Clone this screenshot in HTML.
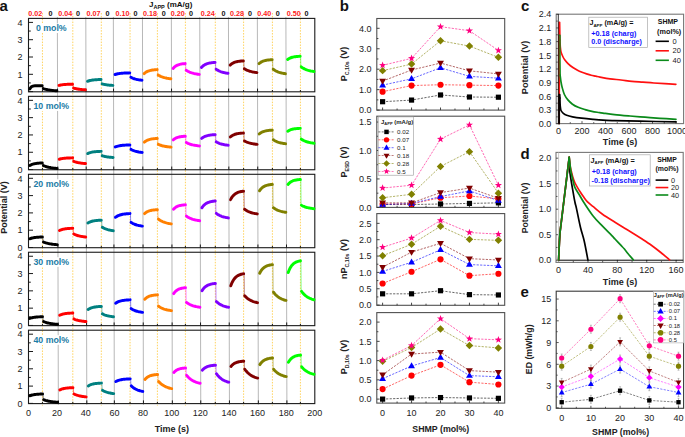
<!DOCTYPE html>
<html><head><meta charset="utf-8"><style>
html,body{margin:0;padding:0;background:#fff;}
svg{display:block;font-family:"Liberation Sans",sans-serif;}
</style></head><body>
<svg width="685" height="437" viewBox="0 0 685 437">
<rect width="685" height="437" fill="#fff"/>
<line x1="57.35" y1="17.00" x2="58.35" y2="404.80" stroke="#b8b8b8" stroke-width="1" />
<line x1="85.80" y1="17.00" x2="86.80" y2="404.80" stroke="#b8b8b8" stroke-width="1" />
<line x1="113.35" y1="17.00" x2="114.35" y2="404.80" stroke="#b8b8b8" stroke-width="1" />
<line x1="142.45" y1="17.00" x2="143.45" y2="404.80" stroke="#b8b8b8" stroke-width="1" />
<line x1="171.35" y1="17.00" x2="172.35" y2="404.80" stroke="#b8b8b8" stroke-width="1" />
<line x1="199.75" y1="17.00" x2="200.75" y2="404.80" stroke="#b8b8b8" stroke-width="1" />
<line x1="228.45" y1="17.00" x2="229.45" y2="404.80" stroke="#b8b8b8" stroke-width="1" />
<line x1="257.35" y1="17.00" x2="258.35" y2="404.80" stroke="#b8b8b8" stroke-width="1" />
<line x1="285.90" y1="17.00" x2="286.90" y2="404.80" stroke="#b8b8b8" stroke-width="1" />
<line x1="42.45" y1="13.00" x2="42.45" y2="405.60" stroke="#ffd35f" stroke-width="1" stroke-dasharray="1.5,1.36"/>
<line x1="72.80" y1="13.00" x2="72.80" y2="405.60" stroke="#ffd35f" stroke-width="1" stroke-dasharray="1.5,1.36"/>
<line x1="101.30" y1="13.00" x2="101.30" y2="405.60" stroke="#ffd35f" stroke-width="1" stroke-dasharray="1.5,1.36"/>
<line x1="130.05" y1="13.00" x2="130.05" y2="405.60" stroke="#ffd35f" stroke-width="1" stroke-dasharray="1.5,1.36"/>
<line x1="157.40" y1="13.00" x2="157.40" y2="405.60" stroke="#ffd35f" stroke-width="1" stroke-dasharray="1.5,1.36"/>
<line x1="185.40" y1="13.00" x2="185.40" y2="405.60" stroke="#ffd35f" stroke-width="1" stroke-dasharray="1.5,1.36"/>
<line x1="215.30" y1="13.00" x2="215.30" y2="405.60" stroke="#ffd35f" stroke-width="1" stroke-dasharray="1.5,1.36"/>
<line x1="243.60" y1="13.00" x2="243.60" y2="405.60" stroke="#ffd35f" stroke-width="1" stroke-dasharray="1.5,1.36"/>
<line x1="272.40" y1="13.00" x2="272.40" y2="405.60" stroke="#ffd35f" stroke-width="1" stroke-dasharray="1.5,1.36"/>
<line x1="300.40" y1="13.00" x2="300.40" y2="405.60" stroke="#ffd35f" stroke-width="1" stroke-dasharray="1.5,1.36"/>
<rect x="28.50" y="18.40" width="286.30" height="73.40" fill="none" stroke="#1a1a1a" stroke-width="1.1" />
<line x1="28.50" y1="91.60" x2="33.00" y2="91.60" stroke="#1a1a1a" stroke-width="1" />
<text x="22.60" y="94.80" font-size="9" text-anchor="end" font-weight="normal" fill="#222" >0</text>
<line x1="28.50" y1="74.30" x2="33.00" y2="74.30" stroke="#1a1a1a" stroke-width="1" />
<text x="22.60" y="77.50" font-size="9" text-anchor="end" font-weight="normal" fill="#222" >1</text>
<line x1="28.50" y1="57.00" x2="33.00" y2="57.00" stroke="#1a1a1a" stroke-width="1" />
<text x="22.60" y="60.20" font-size="9" text-anchor="end" font-weight="normal" fill="#222" >2</text>
<line x1="28.50" y1="39.70" x2="33.00" y2="39.70" stroke="#1a1a1a" stroke-width="1" />
<text x="22.60" y="42.90" font-size="9" text-anchor="end" font-weight="normal" fill="#222" >3</text>
<line x1="28.50" y1="22.40" x2="33.00" y2="22.40" stroke="#1a1a1a" stroke-width="1" />
<text x="22.60" y="25.60" font-size="9" text-anchor="end" font-weight="normal" fill="#222" >4</text>
<line x1="28.50" y1="82.95" x2="30.80" y2="82.95" stroke="#1a1a1a" stroke-width="1" />
<line x1="28.50" y1="65.65" x2="30.80" y2="65.65" stroke="#1a1a1a" stroke-width="1" />
<line x1="28.50" y1="48.35" x2="30.80" y2="48.35" stroke="#1a1a1a" stroke-width="1" />
<line x1="28.50" y1="31.05" x2="30.80" y2="31.05" stroke="#1a1a1a" stroke-width="1" />
<line x1="57.54" y1="91.80" x2="57.54" y2="88.60" stroke="#1a1a1a" stroke-width="1" />
<line x1="85.99" y1="91.80" x2="85.99" y2="88.60" stroke="#1a1a1a" stroke-width="1" />
<line x1="113.54" y1="91.80" x2="113.54" y2="88.60" stroke="#1a1a1a" stroke-width="1" />
<line x1="142.64" y1="91.80" x2="142.64" y2="88.60" stroke="#1a1a1a" stroke-width="1" />
<line x1="171.54" y1="91.80" x2="171.54" y2="88.60" stroke="#1a1a1a" stroke-width="1" />
<line x1="199.94" y1="91.80" x2="199.94" y2="88.60" stroke="#1a1a1a" stroke-width="1" />
<line x1="228.64" y1="91.80" x2="228.64" y2="88.60" stroke="#1a1a1a" stroke-width="1" />
<line x1="257.54" y1="91.80" x2="257.54" y2="88.60" stroke="#1a1a1a" stroke-width="1" />
<line x1="286.09" y1="91.80" x2="286.09" y2="88.60" stroke="#1a1a1a" stroke-width="1" />
<line x1="42.45" y1="91.80" x2="42.45" y2="90.00" stroke="#1a1a1a" stroke-width="1" />
<line x1="72.80" y1="91.80" x2="72.80" y2="90.00" stroke="#1a1a1a" stroke-width="1" />
<line x1="101.30" y1="91.80" x2="101.30" y2="90.00" stroke="#1a1a1a" stroke-width="1" />
<line x1="130.05" y1="91.80" x2="130.05" y2="90.00" stroke="#1a1a1a" stroke-width="1" />
<line x1="157.40" y1="91.80" x2="157.40" y2="90.00" stroke="#1a1a1a" stroke-width="1" />
<line x1="185.40" y1="91.80" x2="185.40" y2="90.00" stroke="#1a1a1a" stroke-width="1" />
<line x1="215.30" y1="91.80" x2="215.30" y2="90.00" stroke="#1a1a1a" stroke-width="1" />
<line x1="243.60" y1="91.80" x2="243.60" y2="90.00" stroke="#1a1a1a" stroke-width="1" />
<line x1="272.40" y1="91.80" x2="272.40" y2="90.00" stroke="#1a1a1a" stroke-width="1" />
<line x1="300.40" y1="91.80" x2="300.40" y2="90.00" stroke="#1a1a1a" stroke-width="1" />
<rect x="35.80" y="23.40" width="31.00" height="9.6" fill="#fff"/>
<text x="51.30" y="31.40" font-size="8.8" text-anchor="middle" font-weight="bold" fill="#1b7ca6" >0 mol%</text>
<polyline points="29.80,89.00 30.57,87.66 31.35,86.86 32.12,86.39 32.90,86.11 33.67,85.94 34.44,85.84 35.22,85.79 35.99,85.75 36.76,85.73 37.54,85.72 38.31,85.71 39.09,85.71 39.86,85.70 40.63,85.70 41.41,85.70 42.18,85.70" fill="none" stroke="#000000" stroke-width="2.95" stroke-linejoin="round" stroke-linecap="round" />
<polyline points="43.28,88.60 44.13,88.87 44.98,89.11 45.83,89.33 46.68,89.52 47.53,89.70 48.37,89.86 49.22,90.00 50.07,90.13 50.92,90.25 51.77,90.36 52.62,90.45 53.47,90.54 54.32,90.61 55.17,90.68 56.01,90.74 56.86,90.80" fill="none" stroke="#000000" stroke-width="2.95" stroke-linejoin="round" stroke-linecap="round" />
<line x1="42.68" y1="85.70" x2="42.88" y2="88.60" stroke="#000000" stroke-width="0.8" opacity="0.6"/>
<polyline points="59.06,85.40 59.90,85.19 60.75,85.02 61.59,84.87 62.43,84.75 63.27,84.65 64.11,84.56 64.96,84.49 65.80,84.43 66.64,84.38 67.48,84.34 68.32,84.31 69.16,84.28 70.01,84.25 70.85,84.23 71.69,84.21 72.53,84.20" fill="none" stroke="#ff0000" stroke-width="2.95" stroke-linejoin="round" stroke-linecap="round" />
<polyline points="73.63,88.10 74.36,88.31 75.09,88.49 75.82,88.66 76.55,88.81 77.28,88.95 78.01,89.07 78.74,89.19 79.47,89.29 80.20,89.38 80.93,89.46 81.66,89.53 82.39,89.60 83.12,89.65 83.85,89.71 84.58,89.76 85.31,89.80" fill="none" stroke="#ff0000" stroke-width="2.95" stroke-linejoin="round" stroke-linecap="round" />
<line x1="73.03" y1="84.20" x2="73.23" y2="88.10" stroke="#ff0000" stroke-width="0.8" opacity="0.6"/>
<polyline points="87.51,81.30 88.36,80.99 89.20,80.73 90.05,80.51 90.89,80.33 91.74,80.17 92.58,80.04 93.43,79.94 94.27,79.85 95.12,79.77 95.96,79.71 96.81,79.66 97.65,79.61 98.50,79.58 99.34,79.55 100.19,79.52 101.03,79.50" fill="none" stroke="#008080" stroke-width="2.95" stroke-linejoin="round" stroke-linecap="round" />
<polyline points="102.13,83.90 102.80,84.08 103.47,84.25 104.14,84.40 104.81,84.53 105.49,84.65 106.16,84.76 106.83,84.86 107.50,84.95 108.17,85.03 108.84,85.10 109.51,85.16 110.18,85.22 110.85,85.27 111.52,85.32 112.19,85.36 112.86,85.40" fill="none" stroke="#008080" stroke-width="2.95" stroke-linejoin="round" stroke-linecap="round" />
<line x1="101.53" y1="79.50" x2="101.73" y2="83.90" stroke="#008080" stroke-width="0.8" opacity="0.6"/>
<polyline points="115.06,74.50 115.98,74.22 116.90,73.99 117.82,73.80 118.74,73.63 119.66,73.50 120.58,73.38 121.50,73.29 122.42,73.21 123.34,73.14 124.26,73.09 125.18,73.04 126.10,73.00 127.02,72.97 127.94,72.94 128.86,72.92 129.78,72.90" fill="none" stroke="#0000ff" stroke-width="2.95" stroke-linejoin="round" stroke-linecap="round" />
<polyline points="130.88,77.30 131.57,77.65 132.27,77.97 132.96,78.26 133.65,78.52 134.34,78.75 135.04,78.96 135.73,79.15 136.42,79.32 137.11,79.48 137.81,79.61 138.50,79.74 139.19,79.85 139.89,79.95 140.58,80.04 141.27,80.13 141.96,80.20" fill="none" stroke="#0000ff" stroke-width="2.95" stroke-linejoin="round" stroke-linecap="round" />
<line x1="130.28" y1="72.90" x2="130.48" y2="77.30" stroke="#0000ff" stroke-width="0.8" opacity="0.6"/>
<polyline points="144.16,73.60 144.97,72.91 145.78,72.33 146.59,71.84 147.41,71.43 148.22,71.09 149.03,70.81 149.84,70.57 150.65,70.37 151.46,70.21 152.27,70.07 153.08,69.95 153.89,69.85 154.70,69.77 155.51,69.70 156.32,69.65 157.13,69.60" fill="none" stroke="#ff8000" stroke-width="2.95" stroke-linejoin="round" stroke-linecap="round" />
<polyline points="158.23,75.10 159.02,75.55 159.81,75.96 160.60,76.32 161.39,76.65 162.18,76.95 162.97,77.22 163.76,77.46 164.55,77.68 165.34,77.88 166.13,78.05 166.92,78.21 167.71,78.35 168.49,78.48 169.28,78.60 170.07,78.71 170.86,78.80" fill="none" stroke="#ff8000" stroke-width="2.95" stroke-linejoin="round" stroke-linecap="round" />
<line x1="157.63" y1="69.60" x2="157.83" y2="75.10" stroke="#ff8000" stroke-width="0.8" opacity="0.6"/>
<polyline points="173.06,68.50 173.82,67.65 174.57,66.94 175.33,66.34 176.08,65.85 176.83,65.43 177.59,65.08 178.34,64.79 179.10,64.55 179.85,64.34 180.61,64.17 181.36,64.03 182.11,63.91 182.87,63.81 183.62,63.73 184.38,63.66 185.13,63.60" fill="none" stroke="#ff00ff" stroke-width="2.95" stroke-linejoin="round" stroke-linecap="round" />
<polyline points="186.23,70.30 187.05,70.80 187.86,71.25 188.67,71.66 189.49,72.02 190.30,72.35 191.12,72.65 191.93,72.92 192.75,73.16 193.56,73.38 194.38,73.57 195.19,73.75 196.01,73.91 196.82,74.05 197.63,74.18 198.45,74.30 199.26,74.40" fill="none" stroke="#ff00ff" stroke-width="2.95" stroke-linejoin="round" stroke-linecap="round" />
<line x1="185.63" y1="63.60" x2="185.83" y2="70.30" stroke="#ff00ff" stroke-width="0.8" opacity="0.6"/>
<polyline points="201.46,67.40 202.31,66.53 203.16,65.81 204.01,65.20 204.86,64.69 205.70,64.27 206.55,63.91 207.40,63.62 208.25,63.37 209.10,63.16 209.94,62.98 210.79,62.84 211.64,62.72 212.49,62.62 213.34,62.53 214.18,62.46 215.03,62.40" fill="none" stroke="#8000ff" stroke-width="2.95" stroke-linejoin="round" stroke-linecap="round" />
<polyline points="216.13,69.20 216.87,69.70 217.61,70.15 218.35,70.56 219.09,70.92 219.83,71.25 220.57,71.55 221.31,71.82 222.05,72.06 222.79,72.28 223.53,72.47 224.27,72.65 225.01,72.81 225.74,72.95 226.48,73.08 227.22,73.20 227.96,73.30" fill="none" stroke="#8000ff" stroke-width="2.95" stroke-linejoin="round" stroke-linecap="round" />
<line x1="215.53" y1="62.40" x2="215.73" y2="69.20" stroke="#8000ff" stroke-width="0.8" opacity="0.6"/>
<polyline points="230.16,65.10 230.99,64.37 231.81,63.76 232.63,63.25 233.46,62.83 234.28,62.47 235.10,62.17 235.92,61.92 236.75,61.71 237.57,61.54 238.39,61.39 239.22,61.27 240.04,61.17 240.86,61.08 241.69,61.01 242.51,60.95 243.33,60.90" fill="none" stroke="#800000" stroke-width="2.95" stroke-linejoin="round" stroke-linecap="round" />
<polyline points="244.43,68.80 245.21,69.26 245.99,69.68 246.76,70.06 247.54,70.40 248.32,70.70 249.09,70.98 249.87,71.23 250.65,71.45 251.42,71.65 252.20,71.83 252.98,72.00 253.76,72.14 254.53,72.28 255.31,72.40 256.09,72.50 256.86,72.60" fill="none" stroke="#800000" stroke-width="2.95" stroke-linejoin="round" stroke-linecap="round" />
<line x1="243.83" y1="60.90" x2="244.03" y2="68.80" stroke="#800000" stroke-width="0.8" opacity="0.6"/>
<polyline points="259.06,63.60 259.88,62.92 260.70,62.36 261.51,61.88 262.33,61.49 263.15,61.16 263.96,60.88 264.78,60.65 265.60,60.45 266.41,60.29 267.23,60.16 268.05,60.04 268.86,59.95 269.68,59.87 270.50,59.80 271.31,59.75 272.13,59.70" fill="none" stroke="#808000" stroke-width="2.95" stroke-linejoin="round" stroke-linecap="round" />
<polyline points="273.23,69.20 273.99,69.75 274.75,70.24 275.52,70.69 276.28,71.09 277.04,71.45 277.80,71.78 278.56,72.07 279.32,72.34 280.08,72.58 280.84,72.79 281.61,72.98 282.37,73.16 283.13,73.32 283.89,73.46 284.65,73.58 285.41,73.70" fill="none" stroke="#808000" stroke-width="2.95" stroke-linejoin="round" stroke-linecap="round" />
<line x1="272.63" y1="59.70" x2="272.83" y2="69.20" stroke="#808000" stroke-width="0.8" opacity="0.6"/>
<polyline points="287.61,59.50 288.40,58.94 289.18,58.48 289.96,58.09 290.74,57.77 291.53,57.50 292.31,57.27 293.09,57.08 293.87,56.92 294.65,56.79 295.44,56.67 296.22,56.58 297.00,56.50 297.78,56.44 298.57,56.38 299.35,56.34 300.13,56.30" fill="none" stroke="#00ff00" stroke-width="2.95" stroke-linejoin="round" stroke-linecap="round" />
<polyline points="301.23,66.90 302.03,67.46 302.83,67.97 303.63,68.42 304.42,68.83 305.22,69.20 306.02,69.54 306.82,69.84 307.62,70.11 308.41,70.35 309.21,70.57 310.01,70.77 310.81,70.95 311.61,71.11 312.40,71.25 313.20,71.38 314.00,71.50" fill="none" stroke="#00ff00" stroke-width="2.95" stroke-linejoin="round" stroke-linecap="round" />
<line x1="300.63" y1="56.30" x2="300.83" y2="66.90" stroke="#00ff00" stroke-width="0.8" opacity="0.6"/>
<rect x="28.50" y="96.35" width="286.30" height="73.40" fill="none" stroke="#1a1a1a" stroke-width="1.1" />
<line x1="28.50" y1="169.55" x2="33.00" y2="169.55" stroke="#1a1a1a" stroke-width="1" />
<text x="22.60" y="172.75" font-size="9" text-anchor="end" font-weight="normal" fill="#222" >0</text>
<line x1="28.50" y1="152.25" x2="33.00" y2="152.25" stroke="#1a1a1a" stroke-width="1" />
<text x="22.60" y="155.45" font-size="9" text-anchor="end" font-weight="normal" fill="#222" >1</text>
<line x1="28.50" y1="134.95" x2="33.00" y2="134.95" stroke="#1a1a1a" stroke-width="1" />
<text x="22.60" y="138.15" font-size="9" text-anchor="end" font-weight="normal" fill="#222" >2</text>
<line x1="28.50" y1="117.65" x2="33.00" y2="117.65" stroke="#1a1a1a" stroke-width="1" />
<text x="22.60" y="120.85" font-size="9" text-anchor="end" font-weight="normal" fill="#222" >3</text>
<line x1="28.50" y1="100.35" x2="33.00" y2="100.35" stroke="#1a1a1a" stroke-width="1" />
<text x="22.60" y="103.55" font-size="9" text-anchor="end" font-weight="normal" fill="#222" >4</text>
<line x1="28.50" y1="160.90" x2="30.80" y2="160.90" stroke="#1a1a1a" stroke-width="1" />
<line x1="28.50" y1="143.60" x2="30.80" y2="143.60" stroke="#1a1a1a" stroke-width="1" />
<line x1="28.50" y1="126.30" x2="30.80" y2="126.30" stroke="#1a1a1a" stroke-width="1" />
<line x1="28.50" y1="109.00" x2="30.80" y2="109.00" stroke="#1a1a1a" stroke-width="1" />
<line x1="57.74" y1="169.75" x2="57.74" y2="166.55" stroke="#1a1a1a" stroke-width="1" />
<line x1="86.19" y1="169.75" x2="86.19" y2="166.55" stroke="#1a1a1a" stroke-width="1" />
<line x1="113.74" y1="169.75" x2="113.74" y2="166.55" stroke="#1a1a1a" stroke-width="1" />
<line x1="142.84" y1="169.75" x2="142.84" y2="166.55" stroke="#1a1a1a" stroke-width="1" />
<line x1="171.74" y1="169.75" x2="171.74" y2="166.55" stroke="#1a1a1a" stroke-width="1" />
<line x1="200.14" y1="169.75" x2="200.14" y2="166.55" stroke="#1a1a1a" stroke-width="1" />
<line x1="228.84" y1="169.75" x2="228.84" y2="166.55" stroke="#1a1a1a" stroke-width="1" />
<line x1="257.74" y1="169.75" x2="257.74" y2="166.55" stroke="#1a1a1a" stroke-width="1" />
<line x1="286.29" y1="169.75" x2="286.29" y2="166.55" stroke="#1a1a1a" stroke-width="1" />
<line x1="42.45" y1="169.75" x2="42.45" y2="167.95" stroke="#1a1a1a" stroke-width="1" />
<line x1="72.80" y1="169.75" x2="72.80" y2="167.95" stroke="#1a1a1a" stroke-width="1" />
<line x1="101.30" y1="169.75" x2="101.30" y2="167.95" stroke="#1a1a1a" stroke-width="1" />
<line x1="130.05" y1="169.75" x2="130.05" y2="167.95" stroke="#1a1a1a" stroke-width="1" />
<line x1="157.40" y1="169.75" x2="157.40" y2="167.95" stroke="#1a1a1a" stroke-width="1" />
<line x1="185.40" y1="169.75" x2="185.40" y2="167.95" stroke="#1a1a1a" stroke-width="1" />
<line x1="215.30" y1="169.75" x2="215.30" y2="167.95" stroke="#1a1a1a" stroke-width="1" />
<line x1="243.60" y1="169.75" x2="243.60" y2="167.95" stroke="#1a1a1a" stroke-width="1" />
<line x1="272.40" y1="169.75" x2="272.40" y2="167.95" stroke="#1a1a1a" stroke-width="1" />
<line x1="300.40" y1="169.75" x2="300.40" y2="167.95" stroke="#1a1a1a" stroke-width="1" />
<rect x="33.30" y="101.35" width="36.00" height="9.6" fill="#fff"/>
<text x="51.30" y="109.35" font-size="8.8" text-anchor="middle" font-weight="bold" fill="#1b7ca6" >10 mol%</text>
<polyline points="29.80,165.55 30.58,165.10 31.36,164.72 32.14,164.41 32.92,164.14 33.70,163.92 34.48,163.74 35.26,163.58 36.04,163.45 36.82,163.34 37.60,163.25 38.38,163.18 39.16,163.12 39.94,163.06 40.72,163.02 41.50,162.98 42.28,162.95" fill="none" stroke="#000000" stroke-width="2.95" stroke-linejoin="round" stroke-linecap="round" />
<polyline points="43.38,165.55 44.24,165.90 45.09,166.22 45.95,166.51 46.80,166.77 47.66,167.00 48.51,167.21 49.37,167.40 50.22,167.57 51.08,167.73 51.93,167.86 52.79,167.99 53.64,168.10 54.50,168.20 55.35,168.29 56.21,168.38 57.06,168.45" fill="none" stroke="#000000" stroke-width="2.95" stroke-linejoin="round" stroke-linecap="round" />
<line x1="42.78" y1="162.95" x2="42.98" y2="165.55" stroke="#000000" stroke-width="0.8" opacity="0.6"/>
<polyline points="59.26,159.25 60.10,159.01 60.94,158.80 61.77,158.63 62.61,158.49 63.44,158.37 64.28,158.27 65.11,158.19 65.95,158.12 66.78,158.06 67.62,158.01 68.45,157.97 69.29,157.94 70.13,157.91 70.96,157.89 71.80,157.87 72.63,157.85" fill="none" stroke="#ff0000" stroke-width="2.95" stroke-linejoin="round" stroke-linecap="round" />
<polyline points="73.73,161.35 74.47,161.62 75.21,161.86 75.94,162.08 76.68,162.27 77.41,162.45 78.15,162.61 78.89,162.75 79.62,162.88 80.36,163.00 81.10,163.11 81.83,163.20 82.57,163.29 83.31,163.36 84.04,163.43 84.78,163.49 85.51,163.55" fill="none" stroke="#ff0000" stroke-width="2.95" stroke-linejoin="round" stroke-linecap="round" />
<line x1="73.13" y1="157.85" x2="73.33" y2="161.35" stroke="#ff0000" stroke-width="0.8" opacity="0.6"/>
<polyline points="87.71,153.55 88.55,153.17 89.39,152.85 90.23,152.58 91.07,152.36 91.91,152.17 92.75,152.02 93.58,151.88 94.42,151.78 95.26,151.68 96.10,151.61 96.94,151.54 97.78,151.49 98.62,151.44 99.46,151.41 100.29,151.38 101.13,151.35" fill="none" stroke="#008080" stroke-width="2.95" stroke-linejoin="round" stroke-linecap="round" />
<polyline points="102.23,155.75 102.91,155.96 103.59,156.14 104.26,156.31 104.94,156.46 105.62,156.60 106.29,156.72 106.97,156.84 107.65,156.94 108.33,157.03 109.00,157.11 109.68,157.18 110.36,157.25 111.03,157.30 111.71,157.36 112.39,157.41 113.06,157.45" fill="none" stroke="#008080" stroke-width="2.95" stroke-linejoin="round" stroke-linecap="round" />
<line x1="101.63" y1="151.35" x2="101.83" y2="155.75" stroke="#008080" stroke-width="0.8" opacity="0.6"/>
<polyline points="115.26,146.95 116.18,146.60 117.09,146.31 118.01,146.07 118.92,145.87 119.83,145.70 120.75,145.55 121.66,145.44 122.57,145.34 123.49,145.25 124.40,145.18 125.31,145.13 126.23,145.08 127.14,145.04 128.06,145.00 128.97,144.97 129.88,144.95" fill="none" stroke="#0000ff" stroke-width="2.95" stroke-linejoin="round" stroke-linecap="round" />
<polyline points="130.98,149.35 131.68,149.73 132.38,150.07 133.08,150.38 133.78,150.65 134.48,150.90 135.18,151.13 135.87,151.33 136.57,151.51 137.27,151.68 137.97,151.82 138.67,151.96 139.37,152.08 140.07,152.19 140.77,152.28 141.47,152.37 142.16,152.45" fill="none" stroke="#0000ff" stroke-width="2.95" stroke-linejoin="round" stroke-linecap="round" />
<line x1="130.38" y1="144.95" x2="130.58" y2="149.35" stroke="#0000ff" stroke-width="0.8" opacity="0.6"/>
<polyline points="144.36,142.15 145.17,141.51 145.97,140.97 146.78,140.52 147.58,140.15 148.39,139.83 149.19,139.57 149.99,139.35 150.80,139.17 151.60,139.01 152.41,138.88 153.21,138.78 154.02,138.69 154.82,138.61 155.62,138.55 156.43,138.49 157.23,138.45" fill="none" stroke="#ff8000" stroke-width="2.95" stroke-linejoin="round" stroke-linecap="round" />
<polyline points="158.33,144.35 159.13,144.69 159.92,145.00 160.72,145.28 161.52,145.53 162.31,145.75 163.11,145.95 163.90,146.14 164.70,146.30 165.49,146.45 166.29,146.58 167.09,146.70 167.88,146.81 168.68,146.91 169.47,147.00 170.27,147.08 171.06,147.15" fill="none" stroke="#ff8000" stroke-width="2.95" stroke-linejoin="round" stroke-linecap="round" />
<line x1="157.73" y1="138.45" x2="157.93" y2="144.35" stroke="#ff8000" stroke-width="0.8" opacity="0.6"/>
<polyline points="173.26,139.85 174.01,139.23 174.76,138.70 175.51,138.27 176.26,137.90 177.00,137.59 177.75,137.34 178.50,137.12 179.25,136.95 180.00,136.80 180.74,136.67 181.49,136.57 182.24,136.48 182.99,136.41 183.74,136.34 184.48,136.29 185.23,136.25" fill="none" stroke="#ff00ff" stroke-width="2.95" stroke-linejoin="round" stroke-linecap="round" />
<polyline points="186.33,142.55 187.15,142.96 187.97,143.34 188.79,143.67 189.62,143.98 190.44,144.25 191.26,144.50 192.08,144.72 192.90,144.92 193.72,145.10 194.54,145.26 195.36,145.41 196.18,145.54 197.00,145.66 197.82,145.77 198.64,145.86 199.46,145.95" fill="none" stroke="#ff00ff" stroke-width="2.95" stroke-linejoin="round" stroke-linecap="round" />
<line x1="185.73" y1="136.25" x2="185.93" y2="142.55" stroke="#ff00ff" stroke-width="0.8" opacity="0.6"/>
<polyline points="201.66,138.45 202.51,137.79 203.35,137.24 204.19,136.78 205.03,136.39 205.87,136.07 206.71,135.80 207.56,135.57 208.40,135.38 209.24,135.23 210.08,135.09 210.92,134.98 211.77,134.89 212.61,134.81 213.45,134.75 214.29,134.70 215.13,134.65" fill="none" stroke="#8000ff" stroke-width="2.95" stroke-linejoin="round" stroke-linecap="round" />
<polyline points="216.23,141.85 216.98,142.26 217.72,142.64 218.47,142.97 219.22,143.28 219.96,143.55 220.71,143.80 221.45,144.02 222.20,144.22 222.94,144.40 223.69,144.56 224.44,144.71 225.18,144.84 225.93,144.96 226.67,145.07 227.42,145.16 228.16,145.25" fill="none" stroke="#8000ff" stroke-width="2.95" stroke-linejoin="round" stroke-linecap="round" />
<line x1="215.63" y1="134.65" x2="215.83" y2="141.85" stroke="#8000ff" stroke-width="0.8" opacity="0.6"/>
<polyline points="230.36,136.95 231.18,136.27 232.00,135.71 232.81,135.23 233.63,134.84 234.45,134.51 235.26,134.23 236.08,134.00 236.90,133.80 237.72,133.64 238.53,133.51 239.35,133.39 240.17,133.30 240.98,133.22 241.80,133.15 242.62,133.10 243.43,133.05" fill="none" stroke="#800000" stroke-width="2.95" stroke-linejoin="round" stroke-linecap="round" />
<polyline points="244.53,140.95 245.32,141.36 246.10,141.74 246.88,142.07 247.67,142.38 248.45,142.65 249.23,142.90 250.02,143.12 250.80,143.32 251.58,143.50 252.36,143.66 253.15,143.81 253.93,143.94 254.71,144.06 255.50,144.17 256.28,144.26 257.06,144.35" fill="none" stroke="#800000" stroke-width="2.95" stroke-linejoin="round" stroke-linecap="round" />
<line x1="243.93" y1="133.05" x2="244.13" y2="140.95" stroke="#800000" stroke-width="0.8" opacity="0.6"/>
<polyline points="259.26,133.95 260.07,133.29 260.89,132.74 261.70,132.28 262.51,131.89 263.32,131.57 264.13,131.30 264.94,131.07 265.75,130.88 266.56,130.73 267.37,130.59 268.18,130.48 268.99,130.39 269.80,130.31 270.61,130.25 271.42,130.20 272.23,130.15" fill="none" stroke="#808000" stroke-width="2.95" stroke-linejoin="round" stroke-linecap="round" />
<polyline points="273.33,139.85 274.10,140.33 274.87,140.75 275.64,141.14 276.40,141.49 277.17,141.80 277.94,142.08 278.71,142.34 279.47,142.57 280.24,142.78 281.01,142.96 281.78,143.13 282.54,143.28 283.31,143.42 284.08,143.54 284.85,143.65 285.61,143.75" fill="none" stroke="#808000" stroke-width="2.95" stroke-linejoin="round" stroke-linecap="round" />
<line x1="272.73" y1="130.15" x2="272.93" y2="139.85" stroke="#808000" stroke-width="0.8" opacity="0.6"/>
<polyline points="287.81,131.25 288.59,130.75 289.37,130.33 290.14,129.97 290.92,129.68 291.70,129.43 292.47,129.23 293.25,129.05 294.02,128.91 294.80,128.79 295.58,128.69 296.35,128.60 297.13,128.53 297.90,128.48 298.68,128.43 299.46,128.38 300.23,128.35" fill="none" stroke="#00ff00" stroke-width="2.95" stroke-linejoin="round" stroke-linecap="round" />
<polyline points="301.33,139.15 302.12,139.65 302.92,140.10 303.71,140.51 304.50,140.87 305.29,141.20 306.08,141.50 306.87,141.77 307.67,142.01 308.46,142.23 309.25,142.42 310.04,142.60 310.83,142.76 311.62,142.90 312.42,143.03 313.21,143.15 314.00,143.25" fill="none" stroke="#00ff00" stroke-width="2.95" stroke-linejoin="round" stroke-linecap="round" />
<line x1="300.73" y1="128.35" x2="300.93" y2="139.15" stroke="#00ff00" stroke-width="0.8" opacity="0.6"/>
<rect x="28.50" y="174.30" width="286.30" height="73.40" fill="none" stroke="#1a1a1a" stroke-width="1.1" />
<line x1="28.50" y1="247.50" x2="33.00" y2="247.50" stroke="#1a1a1a" stroke-width="1" />
<text x="22.60" y="250.70" font-size="9" text-anchor="end" font-weight="normal" fill="#222" >0</text>
<line x1="28.50" y1="230.20" x2="33.00" y2="230.20" stroke="#1a1a1a" stroke-width="1" />
<text x="22.60" y="233.40" font-size="9" text-anchor="end" font-weight="normal" fill="#222" >1</text>
<line x1="28.50" y1="212.90" x2="33.00" y2="212.90" stroke="#1a1a1a" stroke-width="1" />
<text x="22.60" y="216.10" font-size="9" text-anchor="end" font-weight="normal" fill="#222" >2</text>
<line x1="28.50" y1="195.60" x2="33.00" y2="195.60" stroke="#1a1a1a" stroke-width="1" />
<text x="22.60" y="198.80" font-size="9" text-anchor="end" font-weight="normal" fill="#222" >3</text>
<line x1="28.50" y1="178.30" x2="33.00" y2="178.30" stroke="#1a1a1a" stroke-width="1" />
<text x="22.60" y="181.50" font-size="9" text-anchor="end" font-weight="normal" fill="#222" >4</text>
<line x1="28.50" y1="238.85" x2="30.80" y2="238.85" stroke="#1a1a1a" stroke-width="1" />
<line x1="28.50" y1="221.55" x2="30.80" y2="221.55" stroke="#1a1a1a" stroke-width="1" />
<line x1="28.50" y1="204.25" x2="30.80" y2="204.25" stroke="#1a1a1a" stroke-width="1" />
<line x1="28.50" y1="186.95" x2="30.80" y2="186.95" stroke="#1a1a1a" stroke-width="1" />
<line x1="57.94" y1="247.70" x2="57.94" y2="244.50" stroke="#1a1a1a" stroke-width="1" />
<line x1="86.39" y1="247.70" x2="86.39" y2="244.50" stroke="#1a1a1a" stroke-width="1" />
<line x1="113.94" y1="247.70" x2="113.94" y2="244.50" stroke="#1a1a1a" stroke-width="1" />
<line x1="143.04" y1="247.70" x2="143.04" y2="244.50" stroke="#1a1a1a" stroke-width="1" />
<line x1="171.94" y1="247.70" x2="171.94" y2="244.50" stroke="#1a1a1a" stroke-width="1" />
<line x1="200.34" y1="247.70" x2="200.34" y2="244.50" stroke="#1a1a1a" stroke-width="1" />
<line x1="229.04" y1="247.70" x2="229.04" y2="244.50" stroke="#1a1a1a" stroke-width="1" />
<line x1="257.94" y1="247.70" x2="257.94" y2="244.50" stroke="#1a1a1a" stroke-width="1" />
<line x1="286.49" y1="247.70" x2="286.49" y2="244.50" stroke="#1a1a1a" stroke-width="1" />
<line x1="42.45" y1="247.70" x2="42.45" y2="245.90" stroke="#1a1a1a" stroke-width="1" />
<line x1="72.80" y1="247.70" x2="72.80" y2="245.90" stroke="#1a1a1a" stroke-width="1" />
<line x1="101.30" y1="247.70" x2="101.30" y2="245.90" stroke="#1a1a1a" stroke-width="1" />
<line x1="130.05" y1="247.70" x2="130.05" y2="245.90" stroke="#1a1a1a" stroke-width="1" />
<line x1="157.40" y1="247.70" x2="157.40" y2="245.90" stroke="#1a1a1a" stroke-width="1" />
<line x1="185.40" y1="247.70" x2="185.40" y2="245.90" stroke="#1a1a1a" stroke-width="1" />
<line x1="215.30" y1="247.70" x2="215.30" y2="245.90" stroke="#1a1a1a" stroke-width="1" />
<line x1="243.60" y1="247.70" x2="243.60" y2="245.90" stroke="#1a1a1a" stroke-width="1" />
<line x1="272.40" y1="247.70" x2="272.40" y2="245.90" stroke="#1a1a1a" stroke-width="1" />
<line x1="300.40" y1="247.70" x2="300.40" y2="245.90" stroke="#1a1a1a" stroke-width="1" />
<rect x="33.30" y="179.30" width="36.00" height="9.6" fill="#fff"/>
<text x="51.30" y="187.30" font-size="8.8" text-anchor="middle" font-weight="bold" fill="#1b7ca6" >20 mol%</text>
<polyline points="29.80,238.80 30.59,238.49 31.37,238.23 32.16,238.01 32.95,237.83 33.73,237.67 34.52,237.54 35.31,237.44 36.09,237.35 36.88,237.27 37.66,237.21 38.45,237.16 39.24,237.11 40.02,237.08 40.81,237.05 41.60,237.02 42.38,237.00" fill="none" stroke="#000000" stroke-width="2.95" stroke-linejoin="round" stroke-linecap="round" />
<polyline points="43.48,242.10 44.34,242.42 45.21,242.70 46.07,242.96 46.93,243.19 47.79,243.40 48.65,243.59 49.51,243.76 50.37,243.91 51.24,244.05 52.10,244.17 52.96,244.29 53.82,244.39 54.68,244.48 55.54,244.56 56.40,244.63 57.27,244.70" fill="none" stroke="#000000" stroke-width="2.95" stroke-linejoin="round" stroke-linecap="round" />
<line x1="42.88" y1="237.00" x2="43.08" y2="242.10" stroke="#000000" stroke-width="0.8" opacity="0.6"/>
<polyline points="59.47,230.50 60.30,230.12 61.12,229.80 61.95,229.53 62.78,229.31 63.61,229.12 64.44,228.97 65.27,228.83 66.10,228.73 66.93,228.63 67.76,228.56 68.59,228.49 69.42,228.44 70.25,228.39 71.07,228.36 71.90,228.33 72.73,228.30" fill="none" stroke="#ff0000" stroke-width="2.95" stroke-linejoin="round" stroke-linecap="round" />
<polyline points="73.83,234.00 74.58,234.37 75.32,234.70 76.06,234.99 76.80,235.26 77.55,235.50 78.29,235.72 79.03,235.91 79.77,236.09 80.52,236.25 81.26,236.39 82.00,236.52 82.75,236.64 83.49,236.74 84.23,236.84 84.97,236.92 85.72,237.00" fill="none" stroke="#ff0000" stroke-width="2.95" stroke-linejoin="round" stroke-linecap="round" />
<line x1="73.23" y1="228.30" x2="73.43" y2="234.00" stroke="#ff0000" stroke-width="0.8" opacity="0.6"/>
<polyline points="87.92,223.00 88.75,222.51 89.58,222.11 90.41,221.77 91.25,221.48 92.08,221.25 92.91,221.05 93.74,220.88 94.57,220.74 95.41,220.62 96.24,220.53 97.07,220.45 97.90,220.38 98.74,220.32 99.57,220.27 100.40,220.23 101.23,220.20" fill="none" stroke="#008080" stroke-width="2.95" stroke-linejoin="round" stroke-linecap="round" />
<polyline points="102.33,227.20 103.02,227.63 103.70,228.01 104.38,228.36 105.07,228.67 105.75,228.95 106.43,229.21 107.12,229.43 107.80,229.64 108.48,229.83 109.17,229.99 109.85,230.14 110.53,230.28 111.22,230.40 111.90,230.51 112.58,230.61 113.27,230.70" fill="none" stroke="#008080" stroke-width="2.95" stroke-linejoin="round" stroke-linecap="round" />
<line x1="101.73" y1="220.20" x2="101.93" y2="227.20" stroke="#008080" stroke-width="0.8" opacity="0.6"/>
<polyline points="115.47,217.30 116.37,216.66 117.28,216.12 118.19,215.67 119.10,215.30 120.00,214.98 120.91,214.72 121.82,214.50 122.72,214.32 123.63,214.16 124.54,214.03 125.45,213.93 126.35,213.84 127.26,213.76 128.17,213.70 129.08,213.64 129.98,213.60" fill="none" stroke="#0000ff" stroke-width="2.95" stroke-linejoin="round" stroke-linecap="round" />
<polyline points="131.08,222.40 131.79,222.85 132.49,223.26 133.20,223.62 133.90,223.95 134.61,224.25 135.31,224.52 136.02,224.76 136.72,224.98 137.43,225.18 138.13,225.35 138.84,225.51 139.55,225.65 140.25,225.78 140.96,225.90 141.66,226.01 142.37,226.10" fill="none" stroke="#0000ff" stroke-width="2.95" stroke-linejoin="round" stroke-linecap="round" />
<line x1="130.48" y1="213.60" x2="130.68" y2="222.40" stroke="#0000ff" stroke-width="0.8" opacity="0.6"/>
<polyline points="144.57,213.60 145.36,212.92 146.16,212.36 146.96,211.88 147.76,211.49 148.56,211.16 149.35,210.88 150.15,210.65 150.95,210.45 151.75,210.29 152.55,210.16 153.34,210.04 154.14,209.95 154.94,209.87 155.74,209.80 156.54,209.75 157.33,209.70" fill="none" stroke="#ff8000" stroke-width="2.95" stroke-linejoin="round" stroke-linecap="round" />
<polyline points="158.43,219.10 159.24,219.69 160.04,220.21 160.84,220.69 161.64,221.12 162.44,221.50 163.25,221.85 164.05,222.16 164.85,222.45 165.65,222.70 166.45,222.93 167.26,223.14 168.06,223.32 168.86,223.49 169.66,223.64 170.46,223.78 171.27,223.90" fill="none" stroke="#ff8000" stroke-width="2.95" stroke-linejoin="round" stroke-linecap="round" />
<line x1="157.83" y1="209.70" x2="158.03" y2="219.10" stroke="#ff8000" stroke-width="0.8" opacity="0.6"/>
<polyline points="173.47,209.30 174.21,208.52 174.95,207.87 175.69,207.32 176.43,206.86 177.17,206.48 177.92,206.16 178.66,205.89 179.40,205.67 180.14,205.48 180.88,205.33 181.62,205.20 182.37,205.09 183.11,204.99 183.85,204.92 184.59,204.85 185.33,204.80" fill="none" stroke="#ff00ff" stroke-width="2.95" stroke-linejoin="round" stroke-linecap="round" />
<polyline points="186.43,216.10 187.26,216.66 188.09,217.17 188.91,217.62 189.74,218.03 190.57,218.40 191.40,218.74 192.22,219.04 193.05,219.31 193.88,219.55 194.70,219.77 195.53,219.97 196.36,220.15 197.18,220.31 198.01,220.45 198.84,220.58 199.67,220.70" fill="none" stroke="#ff00ff" stroke-width="2.95" stroke-linejoin="round" stroke-linecap="round" />
<line x1="185.83" y1="204.80" x2="186.03" y2="216.10" stroke="#ff00ff" stroke-width="0.8" opacity="0.6"/>
<polyline points="201.87,207.80 202.70,206.62 203.54,205.63 204.37,204.81 205.21,204.12 206.04,203.54 206.88,203.06 207.71,202.65 208.55,202.31 209.38,202.03 210.22,201.80 211.06,201.60 211.89,201.43 212.73,201.29 213.56,201.18 214.40,201.08 215.23,201.00" fill="none" stroke="#8000ff" stroke-width="2.95" stroke-linejoin="round" stroke-linecap="round" />
<polyline points="216.33,213.40 217.09,213.95 217.84,214.44 218.59,214.89 219.34,215.29 220.09,215.65 220.85,215.98 221.60,216.27 222.35,216.54 223.10,216.78 223.85,216.99 224.61,217.18 225.36,217.36 226.11,217.52 226.86,217.66 227.61,217.78 228.37,217.90" fill="none" stroke="#8000ff" stroke-width="2.95" stroke-linejoin="round" stroke-linecap="round" />
<line x1="215.73" y1="201.00" x2="215.93" y2="213.40" stroke="#8000ff" stroke-width="0.8" opacity="0.6"/>
<polyline points="230.57,199.60 231.38,198.14 232.19,196.92 233.00,195.90 233.81,195.05 234.62,194.34 235.43,193.74 236.24,193.24 237.05,192.82 237.86,192.47 238.67,192.18 239.48,191.94 240.29,191.73 241.10,191.56 241.91,191.42 242.72,191.30 243.53,191.20" fill="none" stroke="#800000" stroke-width="2.95" stroke-linejoin="round" stroke-linecap="round" />
<polyline points="244.63,209.30 245.42,209.86 246.21,210.37 247.00,210.82 247.79,211.23 248.58,211.60 249.37,211.94 250.16,212.24 250.95,212.51 251.74,212.75 252.53,212.97 253.32,213.17 254.11,213.35 254.90,213.51 255.69,213.65 256.48,213.78 257.27,213.90" fill="none" stroke="#800000" stroke-width="2.95" stroke-linejoin="round" stroke-linecap="round" />
<line x1="244.03" y1="191.20" x2="244.23" y2="209.30" stroke="#800000" stroke-width="0.8" opacity="0.6"/>
<polyline points="259.47,190.80 260.27,189.69 261.07,188.76 261.88,187.98 262.68,187.33 263.49,186.79 264.29,186.34 265.10,185.96 265.90,185.64 266.70,185.37 267.51,185.15 268.31,184.96 269.12,184.81 269.92,184.68 270.72,184.57 271.53,184.48 272.33,184.40" fill="none" stroke="#808000" stroke-width="2.95" stroke-linejoin="round" stroke-linecap="round" />
<polyline points="273.43,207.80 274.21,208.35 274.98,208.84 275.75,209.29 276.53,209.69 277.30,210.05 278.08,210.38 278.85,210.67 279.62,210.94 280.40,211.18 281.17,211.39 281.95,211.58 282.72,211.76 283.49,211.92 284.27,212.06 285.04,212.18 285.82,212.30" fill="none" stroke="#808000" stroke-width="2.95" stroke-linejoin="round" stroke-linecap="round" />
<line x1="272.83" y1="184.40" x2="273.03" y2="207.80" stroke="#808000" stroke-width="0.8" opacity="0.6"/>
<polyline points="288.02,184.40 288.79,183.55 289.56,182.84 290.33,182.24 291.10,181.75 291.86,181.33 292.63,180.98 293.40,180.69 294.17,180.45 294.94,180.24 295.71,180.07 296.48,179.93 297.25,179.81 298.02,179.71 298.79,179.63 299.56,179.56 300.33,179.50" fill="none" stroke="#00ff00" stroke-width="2.95" stroke-linejoin="round" stroke-linecap="round" />
<polyline points="301.43,205.30 302.22,205.71 303.00,206.09 303.79,206.42 304.57,206.73 305.36,207.00 306.15,207.25 306.93,207.47 307.72,207.67 308.50,207.85 309.29,208.01 310.07,208.16 310.86,208.29 311.64,208.41 312.43,208.52 313.21,208.61 314.00,208.70" fill="none" stroke="#00ff00" stroke-width="2.95" stroke-linejoin="round" stroke-linecap="round" />
<line x1="300.83" y1="179.50" x2="301.03" y2="205.30" stroke="#00ff00" stroke-width="0.8" opacity="0.6"/>
<rect x="28.50" y="252.25" width="286.30" height="73.40" fill="none" stroke="#1a1a1a" stroke-width="1.1" />
<line x1="28.50" y1="325.45" x2="33.00" y2="325.45" stroke="#1a1a1a" stroke-width="1" />
<text x="22.60" y="328.65" font-size="9" text-anchor="end" font-weight="normal" fill="#222" >0</text>
<line x1="28.50" y1="308.15" x2="33.00" y2="308.15" stroke="#1a1a1a" stroke-width="1" />
<text x="22.60" y="311.35" font-size="9" text-anchor="end" font-weight="normal" fill="#222" >1</text>
<line x1="28.50" y1="290.85" x2="33.00" y2="290.85" stroke="#1a1a1a" stroke-width="1" />
<text x="22.60" y="294.05" font-size="9" text-anchor="end" font-weight="normal" fill="#222" >2</text>
<line x1="28.50" y1="273.55" x2="33.00" y2="273.55" stroke="#1a1a1a" stroke-width="1" />
<text x="22.60" y="276.75" font-size="9" text-anchor="end" font-weight="normal" fill="#222" >3</text>
<line x1="28.50" y1="256.25" x2="33.00" y2="256.25" stroke="#1a1a1a" stroke-width="1" />
<text x="22.60" y="259.45" font-size="9" text-anchor="end" font-weight="normal" fill="#222" >4</text>
<line x1="28.50" y1="316.80" x2="30.80" y2="316.80" stroke="#1a1a1a" stroke-width="1" />
<line x1="28.50" y1="299.50" x2="30.80" y2="299.50" stroke="#1a1a1a" stroke-width="1" />
<line x1="28.50" y1="282.20" x2="30.80" y2="282.20" stroke="#1a1a1a" stroke-width="1" />
<line x1="28.50" y1="264.90" x2="30.80" y2="264.90" stroke="#1a1a1a" stroke-width="1" />
<line x1="58.14" y1="325.65" x2="58.14" y2="322.45" stroke="#1a1a1a" stroke-width="1" />
<line x1="86.59" y1="325.65" x2="86.59" y2="322.45" stroke="#1a1a1a" stroke-width="1" />
<line x1="114.14" y1="325.65" x2="114.14" y2="322.45" stroke="#1a1a1a" stroke-width="1" />
<line x1="143.24" y1="325.65" x2="143.24" y2="322.45" stroke="#1a1a1a" stroke-width="1" />
<line x1="172.14" y1="325.65" x2="172.14" y2="322.45" stroke="#1a1a1a" stroke-width="1" />
<line x1="200.54" y1="325.65" x2="200.54" y2="322.45" stroke="#1a1a1a" stroke-width="1" />
<line x1="229.24" y1="325.65" x2="229.24" y2="322.45" stroke="#1a1a1a" stroke-width="1" />
<line x1="258.14" y1="325.65" x2="258.14" y2="322.45" stroke="#1a1a1a" stroke-width="1" />
<line x1="286.69" y1="325.65" x2="286.69" y2="322.45" stroke="#1a1a1a" stroke-width="1" />
<line x1="42.45" y1="325.65" x2="42.45" y2="323.85" stroke="#1a1a1a" stroke-width="1" />
<line x1="72.80" y1="325.65" x2="72.80" y2="323.85" stroke="#1a1a1a" stroke-width="1" />
<line x1="101.30" y1="325.65" x2="101.30" y2="323.85" stroke="#1a1a1a" stroke-width="1" />
<line x1="130.05" y1="325.65" x2="130.05" y2="323.85" stroke="#1a1a1a" stroke-width="1" />
<line x1="157.40" y1="325.65" x2="157.40" y2="323.85" stroke="#1a1a1a" stroke-width="1" />
<line x1="185.40" y1="325.65" x2="185.40" y2="323.85" stroke="#1a1a1a" stroke-width="1" />
<line x1="215.30" y1="325.65" x2="215.30" y2="323.85" stroke="#1a1a1a" stroke-width="1" />
<line x1="243.60" y1="325.65" x2="243.60" y2="323.85" stroke="#1a1a1a" stroke-width="1" />
<line x1="272.40" y1="325.65" x2="272.40" y2="323.85" stroke="#1a1a1a" stroke-width="1" />
<line x1="300.40" y1="325.65" x2="300.40" y2="323.85" stroke="#1a1a1a" stroke-width="1" />
<rect x="33.30" y="257.25" width="36.00" height="9.6" fill="#fff"/>
<text x="51.30" y="265.25" font-size="8.8" text-anchor="middle" font-weight="bold" fill="#1b7ca6" >30 mol%</text>
<polyline points="29.80,318.45 30.59,318.16 31.39,317.91 32.18,317.70 32.97,317.53 33.76,317.38 34.56,317.26 35.35,317.16 36.14,317.08 36.93,317.01 37.73,316.95 38.52,316.90 39.31,316.86 40.11,316.82 40.90,316.79 41.69,316.77 42.48,316.75" fill="none" stroke="#000000" stroke-width="2.95" stroke-linejoin="round" stroke-linecap="round" />
<polyline points="43.58,321.55 44.45,321.89 45.32,322.20 46.19,322.48 47.05,322.73 47.92,322.95 48.79,323.15 49.66,323.34 50.53,323.50 51.39,323.65 52.26,323.78 53.13,323.90 54.00,324.01 54.86,324.11 55.73,324.20 56.60,324.28 57.47,324.35" fill="none" stroke="#000000" stroke-width="2.95" stroke-linejoin="round" stroke-linecap="round" />
<line x1="42.98" y1="316.75" x2="43.18" y2="321.55" stroke="#000000" stroke-width="0.8" opacity="0.6"/>
<polyline points="59.67,315.25 60.49,314.87 61.31,314.55 62.14,314.28 62.96,314.06 63.78,313.87 64.60,313.72 65.43,313.58 66.25,313.48 67.07,313.38 67.90,313.31 68.72,313.24 69.54,313.19 70.36,313.14 71.19,313.11 72.01,313.08 72.83,313.05" fill="none" stroke="#ff0000" stroke-width="2.95" stroke-linejoin="round" stroke-linecap="round" />
<polyline points="73.93,318.95 74.68,319.27 75.43,319.55 76.18,319.81 76.93,320.04 77.68,320.25 78.43,320.44 79.18,320.61 79.93,320.76 80.67,320.90 81.42,321.02 82.17,321.14 82.92,321.24 83.67,321.33 84.42,321.41 85.17,321.48 85.92,321.55" fill="none" stroke="#ff0000" stroke-width="2.95" stroke-linejoin="round" stroke-linecap="round" />
<line x1="73.33" y1="313.05" x2="73.53" y2="318.95" stroke="#ff0000" stroke-width="0.8" opacity="0.6"/>
<polyline points="88.12,309.55 88.94,309.01 89.77,308.56 90.60,308.19 91.42,307.87 92.25,307.61 93.07,307.39 93.90,307.20 94.73,307.05 95.55,306.92 96.38,306.81 97.20,306.72 98.03,306.65 98.86,306.58 99.68,306.53 100.51,306.49 101.33,306.45" fill="none" stroke="#008080" stroke-width="2.95" stroke-linejoin="round" stroke-linecap="round" />
<polyline points="102.43,313.85 103.12,314.20 103.81,314.52 104.50,314.81 105.19,315.07 105.88,315.30 106.57,315.51 107.26,315.70 107.95,315.87 108.64,316.03 109.33,316.16 110.02,316.29 110.71,316.40 111.40,316.50 112.09,316.59 112.78,316.68 113.47,316.75" fill="none" stroke="#008080" stroke-width="2.95" stroke-linejoin="round" stroke-linecap="round" />
<line x1="101.83" y1="306.45" x2="102.03" y2="313.85" stroke="#008080" stroke-width="0.8" opacity="0.6"/>
<polyline points="115.67,303.15 116.57,302.58 117.47,302.10 118.37,301.70 119.27,301.36 120.17,301.08 121.07,300.85 121.97,300.65 122.88,300.49 123.78,300.35 124.68,300.24 125.58,300.14 126.48,300.06 127.38,299.99 128.28,299.94 129.18,299.89 130.08,299.85" fill="none" stroke="#0000ff" stroke-width="2.95" stroke-linejoin="round" stroke-linecap="round" />
<polyline points="131.18,308.65 131.90,309.10 132.61,309.51 133.32,309.87 134.03,310.20 134.74,310.50 135.45,310.77 136.16,311.01 136.88,311.23 137.59,311.43 138.30,311.60 139.01,311.76 139.72,311.90 140.43,312.03 141.14,312.15 141.86,312.26 142.57,312.35" fill="none" stroke="#0000ff" stroke-width="2.95" stroke-linejoin="round" stroke-linecap="round" />
<line x1="130.58" y1="299.85" x2="130.78" y2="308.65" stroke="#0000ff" stroke-width="0.8" opacity="0.6"/>
<polyline points="144.77,299.25 145.56,298.49 146.35,297.85 147.14,297.31 147.93,296.87 148.73,296.49 149.52,296.18 150.31,295.92 151.10,295.70 151.89,295.52 152.68,295.36 153.48,295.24 154.27,295.13 155.06,295.04 155.85,294.97 156.64,294.90 157.43,294.85" fill="none" stroke="#ff8000" stroke-width="2.95" stroke-linejoin="round" stroke-linecap="round" />
<polyline points="158.53,306.25 159.34,306.79 160.15,307.27 160.96,307.71 161.77,308.10 162.58,308.45 163.38,308.77 164.19,309.06 165.00,309.32 165.81,309.55 166.62,309.76 167.43,309.95 168.23,310.12 169.04,310.27 169.85,310.41 170.66,310.54 171.47,310.65" fill="none" stroke="#ff8000" stroke-width="2.95" stroke-linejoin="round" stroke-linecap="round" />
<line x1="157.93" y1="294.85" x2="158.13" y2="306.25" stroke="#ff8000" stroke-width="0.8" opacity="0.6"/>
<polyline points="173.67,293.65 174.40,292.63 175.14,291.77 175.87,291.05 176.61,290.45 177.34,289.95 178.08,289.53 178.82,289.18 179.55,288.89 180.29,288.65 181.02,288.44 181.76,288.27 182.49,288.12 183.23,288.00 183.96,287.90 184.70,287.82 185.43,287.75" fill="none" stroke="#ff00ff" stroke-width="2.95" stroke-linejoin="round" stroke-linecap="round" />
<polyline points="186.53,302.45 187.37,303.04 188.20,303.56 189.03,304.04 189.87,304.47 190.70,304.85 191.53,305.20 192.37,305.51 193.20,305.80 194.03,306.05 194.87,306.28 195.70,306.49 196.53,306.67 197.37,306.84 198.20,306.99 199.03,307.13 199.87,307.25" fill="none" stroke="#ff00ff" stroke-width="2.95" stroke-linejoin="round" stroke-linecap="round" />
<line x1="185.93" y1="287.75" x2="186.13" y2="302.45" stroke="#ff00ff" stroke-width="0.8" opacity="0.6"/>
<polyline points="202.07,290.65 202.90,289.40 203.73,288.36 204.55,287.48 205.38,286.75 206.21,286.14 207.04,285.63 207.87,285.20 208.70,284.84 209.53,284.54 210.36,284.29 211.19,284.08 212.02,283.91 212.85,283.76 213.68,283.64 214.50,283.54 215.33,283.45" fill="none" stroke="#8000ff" stroke-width="2.95" stroke-linejoin="round" stroke-linecap="round" />
<polyline points="216.43,301.55 217.19,302.25 217.95,302.87 218.71,303.44 219.47,303.94 220.23,304.40 220.98,304.82 221.74,305.19 222.50,305.52 223.26,305.83 224.02,306.10 224.78,306.34 225.53,306.56 226.29,306.76 227.05,306.94 227.81,307.10 228.57,307.25" fill="none" stroke="#8000ff" stroke-width="2.95" stroke-linejoin="round" stroke-linecap="round" />
<line x1="215.83" y1="283.45" x2="216.03" y2="301.55" stroke="#8000ff" stroke-width="0.8" opacity="0.6"/>
<polyline points="230.77,285.75 231.57,283.67 232.38,281.93 233.18,280.47 233.98,279.25 234.79,278.23 235.59,277.38 236.40,276.67 237.20,276.07 238.00,275.57 238.81,275.15 239.61,274.80 240.42,274.51 241.22,274.27 242.03,274.06 242.83,273.89 243.63,273.75" fill="none" stroke="#800000" stroke-width="2.95" stroke-linejoin="round" stroke-linecap="round" />
<polyline points="244.73,295.85 245.53,296.68 246.33,297.43 247.12,298.10 247.92,298.71 248.71,299.25 249.51,299.75 250.30,300.19 251.10,300.59 251.90,300.95 252.69,301.28 253.49,301.57 254.28,301.83 255.08,302.07 255.88,302.28 256.67,302.48 257.47,302.65" fill="none" stroke="#800000" stroke-width="2.95" stroke-linejoin="round" stroke-linecap="round" />
<line x1="244.13" y1="273.75" x2="244.33" y2="295.85" stroke="#800000" stroke-width="0.8" opacity="0.6"/>
<polyline points="259.67,273.25 260.47,271.76 261.26,270.51 262.06,269.47 262.86,268.59 263.66,267.86 264.45,267.25 265.25,266.74 266.05,266.31 266.85,265.95 267.65,265.66 268.44,265.41 269.24,265.20 270.04,265.02 270.84,264.87 271.64,264.75 272.43,264.65" fill="none" stroke="#808000" stroke-width="2.95" stroke-linejoin="round" stroke-linecap="round" />
<polyline points="273.53,292.25 274.31,293.25 275.09,294.15 275.87,294.96 276.65,295.69 277.43,296.35 278.22,296.95 279.00,297.48 279.78,297.97 280.56,298.40 281.34,298.79 282.12,299.15 282.90,299.46 283.68,299.75 284.46,300.01 285.24,300.24 286.02,300.45" fill="none" stroke="#808000" stroke-width="2.95" stroke-linejoin="round" stroke-linecap="round" />
<line x1="272.93" y1="264.65" x2="273.13" y2="292.25" stroke="#808000" stroke-width="0.8" opacity="0.6"/>
<polyline points="288.22,272.55 288.98,270.52 289.74,268.82 290.51,267.40 291.27,266.21 292.03,265.22 292.80,264.39 293.56,263.69 294.33,263.11 295.09,262.63 295.85,262.22 296.62,261.88 297.38,261.59 298.14,261.36 298.91,261.16 299.67,260.99 300.43,260.85" fill="none" stroke="#00ff00" stroke-width="2.95" stroke-linejoin="round" stroke-linecap="round" />
<polyline points="301.53,291.35 302.31,292.37 303.09,293.30 303.87,294.13 304.65,294.88 305.43,295.55 306.21,296.16 306.99,296.71 307.77,297.21 308.55,297.65 309.33,298.05 310.10,298.41 310.88,298.74 311.66,299.03 312.44,299.30 313.22,299.54 314.00,299.75" fill="none" stroke="#00ff00" stroke-width="2.95" stroke-linejoin="round" stroke-linecap="round" />
<line x1="300.93" y1="260.85" x2="301.13" y2="291.35" stroke="#00ff00" stroke-width="0.8" opacity="0.6"/>
<rect x="28.50" y="330.20" width="286.30" height="73.40" fill="none" stroke="#1a1a1a" stroke-width="1.1" />
<line x1="28.50" y1="403.40" x2="33.00" y2="403.40" stroke="#1a1a1a" stroke-width="1" />
<text x="22.60" y="406.60" font-size="9" text-anchor="end" font-weight="normal" fill="#222" >0</text>
<line x1="28.50" y1="386.10" x2="33.00" y2="386.10" stroke="#1a1a1a" stroke-width="1" />
<text x="22.60" y="389.30" font-size="9" text-anchor="end" font-weight="normal" fill="#222" >1</text>
<line x1="28.50" y1="368.80" x2="33.00" y2="368.80" stroke="#1a1a1a" stroke-width="1" />
<text x="22.60" y="372.00" font-size="9" text-anchor="end" font-weight="normal" fill="#222" >2</text>
<line x1="28.50" y1="351.50" x2="33.00" y2="351.50" stroke="#1a1a1a" stroke-width="1" />
<text x="22.60" y="354.70" font-size="9" text-anchor="end" font-weight="normal" fill="#222" >3</text>
<line x1="28.50" y1="334.20" x2="33.00" y2="334.20" stroke="#1a1a1a" stroke-width="1" />
<text x="22.60" y="337.40" font-size="9" text-anchor="end" font-weight="normal" fill="#222" >4</text>
<line x1="28.50" y1="394.75" x2="30.80" y2="394.75" stroke="#1a1a1a" stroke-width="1" />
<line x1="28.50" y1="377.45" x2="30.80" y2="377.45" stroke="#1a1a1a" stroke-width="1" />
<line x1="28.50" y1="360.15" x2="30.80" y2="360.15" stroke="#1a1a1a" stroke-width="1" />
<line x1="28.50" y1="342.85" x2="30.80" y2="342.85" stroke="#1a1a1a" stroke-width="1" />
<line x1="58.35" y1="403.60" x2="58.35" y2="400.40" stroke="#1a1a1a" stroke-width="1" />
<line x1="86.80" y1="403.60" x2="86.80" y2="400.40" stroke="#1a1a1a" stroke-width="1" />
<line x1="114.35" y1="403.60" x2="114.35" y2="400.40" stroke="#1a1a1a" stroke-width="1" />
<line x1="143.45" y1="403.60" x2="143.45" y2="400.40" stroke="#1a1a1a" stroke-width="1" />
<line x1="172.35" y1="403.60" x2="172.35" y2="400.40" stroke="#1a1a1a" stroke-width="1" />
<line x1="200.75" y1="403.60" x2="200.75" y2="400.40" stroke="#1a1a1a" stroke-width="1" />
<line x1="229.45" y1="403.60" x2="229.45" y2="400.40" stroke="#1a1a1a" stroke-width="1" />
<line x1="258.35" y1="403.60" x2="258.35" y2="400.40" stroke="#1a1a1a" stroke-width="1" />
<line x1="286.90" y1="403.60" x2="286.90" y2="400.40" stroke="#1a1a1a" stroke-width="1" />
<line x1="42.45" y1="403.60" x2="42.45" y2="401.80" stroke="#1a1a1a" stroke-width="1" />
<line x1="72.80" y1="403.60" x2="72.80" y2="401.80" stroke="#1a1a1a" stroke-width="1" />
<line x1="101.30" y1="403.60" x2="101.30" y2="401.80" stroke="#1a1a1a" stroke-width="1" />
<line x1="130.05" y1="403.60" x2="130.05" y2="401.80" stroke="#1a1a1a" stroke-width="1" />
<line x1="157.40" y1="403.60" x2="157.40" y2="401.80" stroke="#1a1a1a" stroke-width="1" />
<line x1="185.40" y1="403.60" x2="185.40" y2="401.80" stroke="#1a1a1a" stroke-width="1" />
<line x1="215.30" y1="403.60" x2="215.30" y2="401.80" stroke="#1a1a1a" stroke-width="1" />
<line x1="243.60" y1="403.60" x2="243.60" y2="401.80" stroke="#1a1a1a" stroke-width="1" />
<line x1="272.40" y1="403.60" x2="272.40" y2="401.80" stroke="#1a1a1a" stroke-width="1" />
<line x1="300.40" y1="403.60" x2="300.40" y2="401.80" stroke="#1a1a1a" stroke-width="1" />
<rect x="33.30" y="335.20" width="36.00" height="9.6" fill="#fff"/>
<text x="51.30" y="343.20" font-size="8.8" text-anchor="middle" font-weight="bold" fill="#1b7ca6" >40 mol%</text>
<polyline points="29.80,395.80 30.60,395.49 31.40,395.23 32.20,395.01 33.00,394.83 33.80,394.67 34.59,394.54 35.39,394.44 36.19,394.35 36.99,394.27 37.79,394.21 38.59,394.16 39.39,394.11 40.19,394.08 40.99,394.05 41.79,394.02 42.58,394.00" fill="none" stroke="#000000" stroke-width="2.95" stroke-linejoin="round" stroke-linecap="round" />
<polyline points="43.68,399.70 44.56,400.02 45.43,400.30 46.31,400.56 47.18,400.79 48.05,401.00 48.93,401.19 49.80,401.36 50.68,401.51 51.55,401.65 52.42,401.77 53.30,401.89 54.17,401.99 55.05,402.08 55.92,402.16 56.79,402.23 57.67,402.30" fill="none" stroke="#000000" stroke-width="2.95" stroke-linejoin="round" stroke-linecap="round" />
<line x1="43.08" y1="394.00" x2="43.28" y2="399.70" stroke="#000000" stroke-width="0.8" opacity="0.6"/>
<polyline points="59.87,389.90 60.69,389.52 61.50,389.20 62.32,388.93 63.14,388.71 63.95,388.52 64.77,388.37 65.58,388.23 66.40,388.13 67.22,388.03 68.03,387.96 68.85,387.89 69.67,387.84 70.48,387.79 71.30,387.76 72.12,387.73 72.93,387.70" fill="none" stroke="#ff0000" stroke-width="2.95" stroke-linejoin="round" stroke-linecap="round" />
<polyline points="74.03,394.00 74.79,394.35 75.54,394.67 76.30,394.96 77.06,395.22 77.81,395.45 78.57,395.66 79.32,395.85 80.08,396.02 80.83,396.18 81.59,396.31 82.34,396.44 83.10,396.55 83.85,396.65 84.61,396.74 85.36,396.83 86.12,396.90" fill="none" stroke="#ff0000" stroke-width="2.95" stroke-linejoin="round" stroke-linecap="round" />
<line x1="73.43" y1="387.70" x2="73.63" y2="394.00" stroke="#ff0000" stroke-width="0.8" opacity="0.6"/>
<polyline points="88.32,385.90 89.14,385.41 89.96,385.01 90.78,384.67 91.60,384.38 92.42,384.15 93.24,383.95 94.06,383.78 94.88,383.64 95.70,383.52 96.52,383.43 97.34,383.35 98.16,383.28 98.98,383.22 99.79,383.17 100.61,383.13 101.43,383.10" fill="none" stroke="#008080" stroke-width="2.95" stroke-linejoin="round" stroke-linecap="round" />
<polyline points="102.53,390.30 103.23,390.70 103.93,391.07 104.62,391.39 105.32,391.69 106.01,391.95 106.71,392.19 107.41,392.41 108.10,392.60 108.80,392.78 109.49,392.93 110.19,393.07 110.89,393.20 111.58,393.32 112.28,393.42 112.97,393.52 113.67,393.60" fill="none" stroke="#008080" stroke-width="2.95" stroke-linejoin="round" stroke-linecap="round" />
<line x1="101.93" y1="383.10" x2="102.13" y2="390.30" stroke="#008080" stroke-width="0.8" opacity="0.6"/>
<polyline points="115.87,381.50 116.76,381.05 117.66,380.67 118.55,380.36 119.45,380.09 120.34,379.87 121.24,379.69 122.13,379.53 123.03,379.40 123.92,379.29 124.82,379.20 125.71,379.13 126.61,379.07 127.50,379.01 128.39,378.97 129.29,378.93 130.18,378.90" fill="none" stroke="#0000ff" stroke-width="2.95" stroke-linejoin="round" stroke-linecap="round" />
<polyline points="131.28,385.90 132.00,386.57 132.72,387.18 133.44,387.72 134.16,388.21 134.87,388.65 135.59,389.05 136.31,389.41 137.03,389.73 137.74,390.03 138.46,390.29 139.18,390.52 139.90,390.74 140.62,390.93 141.33,391.10 142.05,391.26 142.77,391.40" fill="none" stroke="#0000ff" stroke-width="2.95" stroke-linejoin="round" stroke-linecap="round" />
<line x1="130.68" y1="378.90" x2="130.88" y2="385.90" stroke="#0000ff" stroke-width="0.8" opacity="0.6"/>
<polyline points="144.97,379.40 145.75,378.55 146.54,377.84 147.32,377.24 148.11,376.75 148.90,376.33 149.68,375.98 150.47,375.69 151.25,375.45 152.04,375.24 152.82,375.07 153.61,374.93 154.39,374.81 155.18,374.71 155.96,374.63 156.75,374.56 157.53,374.50" fill="none" stroke="#ff8000" stroke-width="2.95" stroke-linejoin="round" stroke-linecap="round" />
<polyline points="158.63,381.50 159.45,382.37 160.26,383.15 161.08,383.85 161.89,384.48 162.71,385.05 163.52,385.57 164.34,386.03 165.15,386.45 165.97,386.83 166.78,387.16 167.60,387.47 168.41,387.75 169.22,387.99 170.04,388.22 170.85,388.42 171.67,388.60" fill="none" stroke="#ff8000" stroke-width="2.95" stroke-linejoin="round" stroke-linecap="round" />
<line x1="158.03" y1="374.50" x2="158.23" y2="381.50" stroke="#ff8000" stroke-width="0.8" opacity="0.6"/>
<polyline points="173.87,372.50 174.60,371.72 175.33,371.07 176.06,370.52 176.79,370.06 177.51,369.68 178.24,369.36 178.97,369.09 179.70,368.87 180.43,368.68 181.16,368.53 181.89,368.40 182.62,368.29 183.35,368.19 184.08,368.12 184.81,368.05 185.53,368.00" fill="none" stroke="#ff00ff" stroke-width="2.95" stroke-linejoin="round" stroke-linecap="round" />
<polyline points="186.63,375.40 187.47,376.36 188.31,377.23 189.15,378.01 189.99,378.72 190.83,379.35 191.67,379.93 192.51,380.44 193.35,380.91 194.19,381.33 195.03,381.70 195.87,382.04 196.71,382.35 197.55,382.63 198.39,382.87 199.23,383.10 200.07,383.30" fill="none" stroke="#ff00ff" stroke-width="2.95" stroke-linejoin="round" stroke-linecap="round" />
<line x1="186.03" y1="368.00" x2="186.23" y2="375.40" stroke="#ff00ff" stroke-width="0.8" opacity="0.6"/>
<polyline points="202.27,370.20 203.09,369.33 203.91,368.61 204.74,368.00 205.56,367.49 206.38,367.07 207.21,366.71 208.03,366.42 208.85,366.17 209.67,365.96 210.50,365.78 211.32,365.64 212.14,365.52 212.97,365.42 213.79,365.33 214.61,365.26 215.43,365.20" fill="none" stroke="#8000ff" stroke-width="2.95" stroke-linejoin="round" stroke-linecap="round" />
<polyline points="216.53,373.80 217.30,374.82 218.06,375.75 218.83,376.58 219.59,377.33 220.36,378.00 221.12,378.61 221.89,379.16 222.65,379.66 223.42,380.10 224.18,380.50 224.95,380.86 225.71,381.19 226.47,381.48 227.24,381.75 228.00,381.99 228.77,382.20" fill="none" stroke="#8000ff" stroke-width="2.95" stroke-linejoin="round" stroke-linecap="round" />
<line x1="215.93" y1="365.20" x2="216.13" y2="373.80" stroke="#8000ff" stroke-width="0.8" opacity="0.6"/>
<polyline points="230.97,366.40 231.77,365.50 232.56,364.74 233.36,364.11 234.16,363.58 234.96,363.14 235.76,362.77 236.55,362.46 237.35,362.21 238.15,361.99 238.95,361.81 239.75,361.66 240.54,361.53 241.34,361.42 242.14,361.34 242.94,361.26 243.73,361.20" fill="none" stroke="#800000" stroke-width="2.95" stroke-linejoin="round" stroke-linecap="round" />
<polyline points="244.83,369.30 245.64,370.37 246.44,371.34 247.24,372.21 248.04,373.00 248.85,373.70 249.65,374.34 250.45,374.92 251.25,375.43 252.05,375.90 252.86,376.32 253.66,376.70 254.46,377.04 255.26,377.35 256.06,377.63 256.87,377.88 257.67,378.10" fill="none" stroke="#800000" stroke-width="2.95" stroke-linejoin="round" stroke-linecap="round" />
<line x1="244.23" y1="361.20" x2="244.43" y2="369.30" stroke="#800000" stroke-width="0.8" opacity="0.6"/>
<polyline points="259.87,364.60 260.66,363.45 261.45,362.50 262.24,361.70 263.04,361.03 263.83,360.47 264.62,360.00 265.41,359.60 266.20,359.28 266.99,359.00 267.78,358.77 268.58,358.58 269.37,358.42 270.16,358.28 270.95,358.17 271.74,358.08 272.53,358.00" fill="none" stroke="#808000" stroke-width="2.95" stroke-linejoin="round" stroke-linecap="round" />
<polyline points="273.63,369.30 274.42,370.19 275.21,370.99 275.99,371.72 276.78,372.37 277.57,372.95 278.35,373.48 279.14,373.96 279.93,374.39 280.71,374.78 281.50,375.12 282.29,375.44 283.07,375.72 283.86,375.98 284.65,376.21 285.43,376.41 286.22,376.60" fill="none" stroke="#808000" stroke-width="2.95" stroke-linejoin="round" stroke-linecap="round" />
<line x1="273.03" y1="358.00" x2="273.23" y2="369.30" stroke="#808000" stroke-width="0.8" opacity="0.6"/>
<polyline points="288.42,362.30 289.18,361.05 289.93,360.01 290.69,359.13 291.45,358.40 292.20,357.79 292.96,357.28 293.72,356.85 294.48,356.49 295.23,356.19 295.99,355.94 296.75,355.73 297.51,355.56 298.26,355.41 299.02,355.29 299.78,355.19 300.53,355.10" fill="none" stroke="#00ff00" stroke-width="2.95" stroke-linejoin="round" stroke-linecap="round" />
<polyline points="301.63,366.80 302.41,367.71 303.18,368.54 303.95,369.28 304.73,369.95 305.50,370.55 306.27,371.10 307.04,371.59 307.82,372.03 308.59,372.43 309.36,372.78 310.14,373.11 310.91,373.40 311.68,373.66 312.45,373.90 313.23,374.11 314.00,374.30" fill="none" stroke="#00ff00" stroke-width="2.95" stroke-linejoin="round" stroke-linecap="round" />
<line x1="301.03" y1="355.10" x2="301.23" y2="366.80" stroke="#00ff00" stroke-width="0.8" opacity="0.6"/>
<text x="28.50" y="416.30" font-size="9" text-anchor="middle" font-weight="normal" fill="#222" >0</text>
<text x="57.13" y="416.30" font-size="9" text-anchor="middle" font-weight="normal" fill="#222" >20</text>
<text x="85.76" y="416.30" font-size="9" text-anchor="middle" font-weight="normal" fill="#222" >40</text>
<text x="114.39" y="416.30" font-size="9" text-anchor="middle" font-weight="normal" fill="#222" >60</text>
<text x="143.02" y="416.30" font-size="9" text-anchor="middle" font-weight="normal" fill="#222" >80</text>
<text x="171.65" y="416.30" font-size="9" text-anchor="middle" font-weight="normal" fill="#222" >100</text>
<text x="200.28" y="416.30" font-size="9" text-anchor="middle" font-weight="normal" fill="#222" >120</text>
<text x="228.91" y="416.30" font-size="9" text-anchor="middle" font-weight="normal" fill="#222" >140</text>
<text x="257.54" y="416.30" font-size="9" text-anchor="middle" font-weight="normal" fill="#222" >160</text>
<text x="286.17" y="416.30" font-size="9" text-anchor="middle" font-weight="normal" fill="#222" >180</text>
<text x="314.80" y="416.30" font-size="9" text-anchor="middle" font-weight="normal" fill="#222" >200</text>
<text x="171.80" y="431.50" font-size="9" text-anchor="middle" font-weight="bold" fill="#222" >Time (s)</text>
<text x="0" y="0" font-size="9" font-weight="bold" fill="#222" text-anchor="middle" transform="translate(6.9,207.5) rotate(-90)">Potential (V)</text>
<text x="-0.60" y="10.70" font-size="15" text-anchor="start" font-weight="bold" fill="#111" >a</text>
<text x="35.35" y="15.70" font-size="7.2" text-anchor="middle" font-weight="bold" fill="#ff1a1a" >0.02</text>
<text x="50.40" y="15.70" font-size="7.2" text-anchor="middle" font-weight="bold" fill="#111" >0</text>
<text x="65.30" y="15.70" font-size="7.2" text-anchor="middle" font-weight="bold" fill="#ff1a1a" >0.04</text>
<text x="77.90" y="15.70" font-size="7.2" text-anchor="middle" font-weight="bold" fill="#111" >0</text>
<text x="93.60" y="15.70" font-size="7.2" text-anchor="middle" font-weight="bold" fill="#ff1a1a" >0.07</text>
<text x="107.50" y="15.70" font-size="7.2" text-anchor="middle" font-weight="bold" fill="#111" >0</text>
<text x="122.50" y="15.70" font-size="7.2" text-anchor="middle" font-weight="bold" fill="#ff1a1a" >0.10</text>
<text x="135.60" y="15.70" font-size="7.2" text-anchor="middle" font-weight="bold" fill="#111" >0</text>
<text x="150.10" y="15.70" font-size="7.2" text-anchor="middle" font-weight="bold" fill="#ff1a1a" >0.18</text>
<text x="163.80" y="15.70" font-size="7.2" text-anchor="middle" font-weight="bold" fill="#111" >0</text>
<text x="177.70" y="15.70" font-size="7.2" text-anchor="middle" font-weight="bold" fill="#ff1a1a" >0.20</text>
<text x="191.10" y="15.70" font-size="7.2" text-anchor="middle" font-weight="bold" fill="#111" >0</text>
<text x="207.80" y="15.70" font-size="7.2" text-anchor="middle" font-weight="bold" fill="#ff1a1a" >0.24</text>
<text x="223.50" y="15.70" font-size="7.2" text-anchor="middle" font-weight="bold" fill="#111" >0</text>
<text x="236.90" y="15.70" font-size="7.2" text-anchor="middle" font-weight="bold" fill="#ff1a1a" >0.28</text>
<text x="250.00" y="15.70" font-size="7.2" text-anchor="middle" font-weight="bold" fill="#111" >0</text>
<text x="264.30" y="15.70" font-size="7.2" text-anchor="middle" font-weight="bold" fill="#ff1a1a" >0.40</text>
<text x="277.80" y="15.70" font-size="7.2" text-anchor="middle" font-weight="bold" fill="#111" >0</text>
<text x="293.80" y="15.70" font-size="7.2" text-anchor="middle" font-weight="bold" fill="#ff1a1a" >0.50</text>
<text x="306.60" y="15.70" font-size="7.2" text-anchor="middle" font-weight="bold" fill="#111" >0</text>
<text x="149" y="7.3" font-size="8" font-weight="bold" fill="#111">J<tspan font-size="5.5" dy="1.5">APP</tspan><tspan dy="-1.5"> (mA/g)</tspan></text>
<rect x="376.80" y="18.50" width="127.90" height="91.60" fill="none" stroke="#505050" stroke-width="1.1" />
<line x1="376.80" y1="110.10" x2="379.60" y2="110.10" stroke="#333" stroke-width="0.9" />
<text x="371.60" y="113.30" font-size="9" text-anchor="end" font-weight="normal" fill="#222" >0.0</text>
<line x1="376.80" y1="89.65" x2="379.60" y2="89.65" stroke="#333" stroke-width="0.9" />
<text x="371.60" y="92.85" font-size="9" text-anchor="end" font-weight="normal" fill="#222" >1.0</text>
<line x1="376.80" y1="69.20" x2="379.60" y2="69.20" stroke="#333" stroke-width="0.9" />
<text x="371.60" y="72.40" font-size="9" text-anchor="end" font-weight="normal" fill="#222" >2.0</text>
<line x1="376.80" y1="48.75" x2="379.60" y2="48.75" stroke="#333" stroke-width="0.9" />
<text x="371.60" y="51.95" font-size="9" text-anchor="end" font-weight="normal" fill="#222" >3.0</text>
<line x1="376.80" y1="28.30" x2="379.60" y2="28.30" stroke="#333" stroke-width="0.9" />
<text x="371.60" y="31.50" font-size="9" text-anchor="end" font-weight="normal" fill="#222" >4.0</text>
<line x1="376.80" y1="99.88" x2="378.40" y2="99.88" stroke="#333" stroke-width="0.9" />
<line x1="376.80" y1="79.42" x2="378.40" y2="79.42" stroke="#333" stroke-width="0.9" />
<line x1="376.80" y1="58.97" x2="378.40" y2="58.97" stroke="#333" stroke-width="0.9" />
<line x1="376.80" y1="38.52" x2="378.40" y2="38.52" stroke="#333" stroke-width="0.9" />
<line x1="382.60" y1="110.10" x2="382.60" y2="107.50" stroke="#333" stroke-width="0.9" />
<line x1="397.08" y1="110.10" x2="397.08" y2="108.50" stroke="#333" stroke-width="0.9" />
<line x1="411.55" y1="110.10" x2="411.55" y2="107.50" stroke="#333" stroke-width="0.9" />
<line x1="426.03" y1="110.10" x2="426.03" y2="108.50" stroke="#333" stroke-width="0.9" />
<line x1="440.50" y1="110.10" x2="440.50" y2="107.50" stroke="#333" stroke-width="0.9" />
<line x1="454.98" y1="110.10" x2="454.98" y2="108.50" stroke="#333" stroke-width="0.9" />
<line x1="469.45" y1="110.10" x2="469.45" y2="107.50" stroke="#333" stroke-width="0.9" />
<line x1="483.93" y1="110.10" x2="483.93" y2="108.50" stroke="#333" stroke-width="0.9" />
<line x1="498.40" y1="110.10" x2="498.40" y2="107.50" stroke="#333" stroke-width="0.9" />
<polyline points="382.60,101.72 411.55,100.08 440.50,94.97 469.45,97.01 498.40,97.22" fill="none" stroke="#000000" stroke-width="0.8" stroke-dasharray="2.2,1.3" opacity="0.75"/>
<polyline points="382.60,91.69 411.55,85.56 440.50,84.74 469.45,85.15 498.40,85.56" fill="none" stroke="#ff0000" stroke-width="0.8" stroke-dasharray="2.2,1.3" opacity="0.75"/>
<polyline points="382.60,85.15 411.55,78.81 440.50,67.77 469.45,76.36 498.40,78.20" fill="none" stroke="#0000ff" stroke-width="0.8" stroke-dasharray="2.2,1.3" opacity="0.75"/>
<polyline points="382.60,81.06 411.55,70.02 440.50,63.06 469.45,70.84 498.40,73.90" fill="none" stroke="#800000" stroke-width="0.8" stroke-dasharray="2.2,1.3" opacity="0.75"/>
<polyline points="382.60,70.63 411.55,64.09 440.50,40.77 469.45,46.09 498.40,57.34" fill="none" stroke="#808000" stroke-width="0.8" stroke-dasharray="2.2,1.3" opacity="0.75"/>
<polyline points="382.60,65.31 411.55,58.36 440.50,26.66 469.45,30.75 498.40,50.39" fill="none" stroke="#ff0080" stroke-width="0.8" stroke-dasharray="2.2,1.3" opacity="0.75"/>
<rect x="380.02" y="99.13" width="5.17" height="5.17" fill="#000000"/>
<rect x="408.97" y="97.49" width="5.17" height="5.17" fill="#000000"/>
<rect x="437.92" y="92.38" width="5.17" height="5.17" fill="#000000"/>
<rect x="466.87" y="94.43" width="5.17" height="5.17" fill="#000000"/>
<rect x="495.82" y="94.63" width="5.17" height="5.17" fill="#000000"/>
<circle cx="382.60" cy="91.69" r="3.08" fill="#ff0000"/>
<circle cx="411.55" cy="85.56" r="3.08" fill="#ff0000"/>
<circle cx="440.50" cy="84.74" r="3.08" fill="#ff0000"/>
<circle cx="469.45" cy="85.15" r="3.08" fill="#ff0000"/>
<circle cx="498.40" cy="85.56" r="3.08" fill="#ff0000"/>
<polygon points="382.60,81.41 386.04,87.39 379.16,87.39" fill="#0000ff"/>
<polygon points="411.55,75.07 414.99,81.06 408.11,81.06" fill="#0000ff"/>
<polygon points="440.50,64.03 443.94,70.01 437.06,70.01" fill="#0000ff"/>
<polygon points="469.45,72.62 472.89,78.60 466.01,78.60" fill="#0000ff"/>
<polygon points="498.40,74.46 501.84,80.44 494.96,80.44" fill="#0000ff"/>
<polygon points="382.60,84.80 386.04,78.82 379.16,78.82" fill="#800000"/>
<polygon points="411.55,73.76 414.99,67.77 408.11,67.77" fill="#800000"/>
<polygon points="440.50,66.80 443.94,60.82 437.06,60.82" fill="#800000"/>
<polygon points="469.45,74.58 472.89,68.59 466.01,68.59" fill="#800000"/>
<polygon points="498.40,77.64 501.84,71.66 494.96,71.66" fill="#800000"/>
<polygon points="382.60,66.89 386.34,70.63 382.60,74.37 378.86,70.63" fill="#808000"/>
<polygon points="411.55,60.35 415.29,64.09 411.55,67.83 407.81,64.09" fill="#808000"/>
<polygon points="440.50,37.03 444.24,40.77 440.50,44.51 436.76,40.77" fill="#808000"/>
<polygon points="469.45,42.35 473.19,46.09 469.45,49.83 465.71,46.09" fill="#808000"/>
<polygon points="498.40,53.60 502.14,57.34 498.40,61.08 494.66,57.34" fill="#808000"/>
<polygon points="382.60,61.57 383.51,64.07 386.16,64.16 384.06,65.79 384.80,68.34 382.60,66.85 380.40,68.34 381.14,65.79 379.04,64.16 381.69,64.07" fill="#ff0080"/>
<polygon points="411.55,54.62 412.46,57.12 415.11,57.21 413.01,58.84 413.75,61.39 411.55,59.90 409.35,61.39 410.09,58.84 407.99,57.21 410.64,57.12" fill="#ff0080"/>
<polygon points="440.50,22.92 441.41,25.42 444.06,25.51 441.96,27.14 442.70,29.69 440.50,28.20 438.30,29.69 439.04,27.14 436.94,25.51 439.59,25.42" fill="#ff0080"/>
<polygon points="469.45,27.01 470.36,29.51 473.01,29.60 470.91,31.23 471.65,33.78 469.45,32.29 467.25,33.78 467.99,31.23 465.89,29.60 468.54,29.51" fill="#ff0080"/>
<polygon points="498.40,46.65 499.31,49.14 501.96,49.23 499.86,50.86 500.60,53.41 498.40,51.93 496.20,53.41 496.94,50.86 494.84,49.23 497.49,49.14" fill="#ff0080"/>
<text x="0" y="0" font-size="9" font-weight="bold" fill="#222" text-anchor="middle" transform="translate(347.4,64.0) rotate(-90)">P<tspan font-size="5.2" dy="2">C,10s</tspan><tspan dy="-2"> (V)</tspan></text>
<rect x="376.80" y="116.20" width="127.90" height="91.20" fill="none" stroke="#505050" stroke-width="1.1" />
<line x1="376.80" y1="207.40" x2="379.60" y2="207.40" stroke="#333" stroke-width="0.9" />
<text x="371.60" y="210.60" font-size="9" text-anchor="end" font-weight="normal" fill="#222" >0.0</text>
<line x1="376.80" y1="178.95" x2="379.60" y2="178.95" stroke="#333" stroke-width="0.9" />
<text x="371.60" y="182.15" font-size="9" text-anchor="end" font-weight="normal" fill="#222" >0.5</text>
<line x1="376.80" y1="150.50" x2="379.60" y2="150.50" stroke="#333" stroke-width="0.9" />
<text x="371.60" y="153.70" font-size="9" text-anchor="end" font-weight="normal" fill="#222" >1.0</text>
<line x1="376.80" y1="122.05" x2="379.60" y2="122.05" stroke="#333" stroke-width="0.9" />
<text x="371.60" y="125.25" font-size="9" text-anchor="end" font-weight="normal" fill="#222" >1.5</text>
<line x1="376.80" y1="193.18" x2="378.40" y2="193.18" stroke="#333" stroke-width="0.9" />
<line x1="376.80" y1="164.73" x2="378.40" y2="164.73" stroke="#333" stroke-width="0.9" />
<line x1="376.80" y1="136.28" x2="378.40" y2="136.28" stroke="#333" stroke-width="0.9" />
<line x1="382.60" y1="207.40" x2="382.60" y2="204.80" stroke="#333" stroke-width="0.9" />
<line x1="397.08" y1="207.40" x2="397.08" y2="205.80" stroke="#333" stroke-width="0.9" />
<line x1="411.55" y1="207.40" x2="411.55" y2="204.80" stroke="#333" stroke-width="0.9" />
<line x1="426.03" y1="207.40" x2="426.03" y2="205.80" stroke="#333" stroke-width="0.9" />
<line x1="440.50" y1="207.40" x2="440.50" y2="204.80" stroke="#333" stroke-width="0.9" />
<line x1="454.98" y1="207.40" x2="454.98" y2="205.80" stroke="#333" stroke-width="0.9" />
<line x1="469.45" y1="207.40" x2="469.45" y2="204.80" stroke="#333" stroke-width="0.9" />
<line x1="483.93" y1="207.40" x2="483.93" y2="205.80" stroke="#333" stroke-width="0.9" />
<line x1="498.40" y1="207.40" x2="498.40" y2="204.80" stroke="#333" stroke-width="0.9" />
<polyline points="382.60,204.56 411.55,204.56 440.50,203.99 469.45,203.42 498.40,202.85" fill="none" stroke="#000000" stroke-width="0.8" stroke-dasharray="2.2,1.3" opacity="0.75"/>
<polyline points="382.60,203.99 411.55,203.99 440.50,197.73 469.45,196.02 498.40,198.87" fill="none" stroke="#ff0000" stroke-width="0.8" stroke-dasharray="2.2,1.3" opacity="0.75"/>
<polyline points="382.60,204.56 411.55,203.42 440.50,196.59 469.45,190.90 498.40,200.57" fill="none" stroke="#0000ff" stroke-width="0.8" stroke-dasharray="2.2,1.3" opacity="0.75"/>
<polyline points="382.60,202.85 411.55,202.85 440.50,192.61 469.45,188.05 498.40,198.30" fill="none" stroke="#800000" stroke-width="0.8" stroke-dasharray="2.2,1.3" opacity="0.75"/>
<polyline points="382.60,197.73 411.55,194.31 440.50,166.43 469.45,151.64 498.40,193.18" fill="none" stroke="#808000" stroke-width="0.8" stroke-dasharray="2.2,1.3" opacity="0.75"/>
<polyline points="382.60,188.05 411.55,185.21 440.50,139.12 469.45,124.90 498.40,185.21" fill="none" stroke="#ff0080" stroke-width="0.8" stroke-dasharray="2.2,1.3" opacity="0.75"/>
<rect x="380.02" y="201.97" width="5.17" height="5.17" fill="#000000"/>
<rect x="408.97" y="201.97" width="5.17" height="5.17" fill="#000000"/>
<rect x="437.92" y="201.40" width="5.17" height="5.17" fill="#000000"/>
<rect x="466.87" y="200.83" width="5.17" height="5.17" fill="#000000"/>
<rect x="495.82" y="200.26" width="5.17" height="5.17" fill="#000000"/>
<circle cx="382.60" cy="203.99" r="3.08" fill="#ff0000"/>
<circle cx="411.55" cy="203.99" r="3.08" fill="#ff0000"/>
<circle cx="440.50" cy="197.73" r="3.08" fill="#ff0000"/>
<circle cx="469.45" cy="196.02" r="3.08" fill="#ff0000"/>
<circle cx="498.40" cy="198.87" r="3.08" fill="#ff0000"/>
<polygon points="382.60,200.81 386.04,206.80 379.16,206.80" fill="#0000ff"/>
<polygon points="411.55,199.68 414.99,205.66 408.11,205.66" fill="#0000ff"/>
<polygon points="440.50,192.85 443.94,198.83 437.06,198.83" fill="#0000ff"/>
<polygon points="469.45,187.16 472.89,193.14 466.01,193.14" fill="#0000ff"/>
<polygon points="498.40,196.83 501.84,202.82 494.96,202.82" fill="#0000ff"/>
<polygon points="382.60,206.59 386.04,200.60 379.16,200.60" fill="#800000"/>
<polygon points="411.55,206.59 414.99,200.60 408.11,200.60" fill="#800000"/>
<polygon points="440.50,196.35 443.94,190.36 437.06,190.36" fill="#800000"/>
<polygon points="469.45,191.79 472.89,185.81 466.01,185.81" fill="#800000"/>
<polygon points="498.40,202.04 501.84,196.05 494.96,196.05" fill="#800000"/>
<polygon points="382.60,193.99 386.34,197.73 382.60,201.47 378.86,197.73" fill="#808000"/>
<polygon points="411.55,190.57 415.29,194.31 411.55,198.05 407.81,194.31" fill="#808000"/>
<polygon points="440.50,162.69 444.24,166.43 440.50,170.17 436.76,166.43" fill="#808000"/>
<polygon points="469.45,147.90 473.19,151.64 469.45,155.38 465.71,151.64" fill="#808000"/>
<polygon points="498.40,189.44 502.14,193.18 498.40,196.92 494.66,193.18" fill="#808000"/>
<polygon points="382.60,184.31 383.51,186.81 386.16,186.90 384.06,188.53 384.80,191.08 382.60,189.59 380.40,191.08 381.14,188.53 379.04,186.90 381.69,186.81" fill="#ff0080"/>
<polygon points="411.55,181.47 412.46,183.96 415.11,184.05 413.01,185.68 413.75,188.23 411.55,186.75 409.35,188.23 410.09,185.68 407.99,184.05 410.64,183.96" fill="#ff0080"/>
<polygon points="440.50,135.38 441.41,137.87 444.06,137.96 441.96,139.60 442.70,142.15 440.50,140.66 438.30,142.15 439.04,139.60 436.94,137.96 439.59,137.87" fill="#ff0080"/>
<polygon points="469.45,121.16 470.36,123.65 473.01,123.74 470.91,125.37 471.65,127.92 469.45,126.44 467.25,127.92 467.99,125.37 465.89,123.74 468.54,123.65" fill="#ff0080"/>
<polygon points="498.40,181.47 499.31,183.96 501.96,184.05 499.86,185.68 500.60,188.23 498.40,186.75 496.20,188.23 496.94,185.68 494.84,184.05 497.49,183.96" fill="#ff0080"/>
<text x="0" y="0" font-size="9" font-weight="bold" fill="#222" text-anchor="middle" transform="translate(347.4,162.0) rotate(-90)">P<tspan font-size="5.2" dy="2">ESD</tspan><tspan dy="-2"> (V)</tspan></text>
<rect x="376.80" y="213.60" width="127.90" height="91.70" fill="none" stroke="#505050" stroke-width="1.1" />
<line x1="376.80" y1="305.10" x2="379.60" y2="305.10" stroke="#333" stroke-width="0.9" />
<text x="371.60" y="308.30" font-size="9" text-anchor="end" font-weight="normal" fill="#222" >0.0</text>
<line x1="376.80" y1="288.75" x2="379.60" y2="288.75" stroke="#333" stroke-width="0.9" />
<text x="371.60" y="291.95" font-size="9" text-anchor="end" font-weight="normal" fill="#222" >0.5</text>
<line x1="376.80" y1="272.40" x2="379.60" y2="272.40" stroke="#333" stroke-width="0.9" />
<text x="371.60" y="275.60" font-size="9" text-anchor="end" font-weight="normal" fill="#222" >1.0</text>
<line x1="376.80" y1="256.05" x2="379.60" y2="256.05" stroke="#333" stroke-width="0.9" />
<text x="371.60" y="259.25" font-size="9" text-anchor="end" font-weight="normal" fill="#222" >1.5</text>
<line x1="376.80" y1="239.70" x2="379.60" y2="239.70" stroke="#333" stroke-width="0.9" />
<text x="371.60" y="242.90" font-size="9" text-anchor="end" font-weight="normal" fill="#222" >2.0</text>
<line x1="376.80" y1="223.35" x2="379.60" y2="223.35" stroke="#333" stroke-width="0.9" />
<text x="371.60" y="226.55" font-size="9" text-anchor="end" font-weight="normal" fill="#222" >2.5</text>
<line x1="376.80" y1="296.93" x2="378.40" y2="296.93" stroke="#333" stroke-width="0.9" />
<line x1="376.80" y1="280.58" x2="378.40" y2="280.58" stroke="#333" stroke-width="0.9" />
<line x1="376.80" y1="264.23" x2="378.40" y2="264.23" stroke="#333" stroke-width="0.9" />
<line x1="376.80" y1="247.88" x2="378.40" y2="247.88" stroke="#333" stroke-width="0.9" />
<line x1="376.80" y1="231.53" x2="378.40" y2="231.53" stroke="#333" stroke-width="0.9" />
<line x1="382.60" y1="305.30" x2="382.60" y2="302.70" stroke="#333" stroke-width="0.9" />
<line x1="397.08" y1="305.30" x2="397.08" y2="303.70" stroke="#333" stroke-width="0.9" />
<line x1="411.55" y1="305.30" x2="411.55" y2="302.70" stroke="#333" stroke-width="0.9" />
<line x1="426.03" y1="305.30" x2="426.03" y2="303.70" stroke="#333" stroke-width="0.9" />
<line x1="440.50" y1="305.30" x2="440.50" y2="302.70" stroke="#333" stroke-width="0.9" />
<line x1="454.98" y1="305.30" x2="454.98" y2="303.70" stroke="#333" stroke-width="0.9" />
<line x1="469.45" y1="305.30" x2="469.45" y2="302.70" stroke="#333" stroke-width="0.9" />
<line x1="483.93" y1="305.30" x2="483.93" y2="303.70" stroke="#333" stroke-width="0.9" />
<line x1="498.40" y1="305.30" x2="498.40" y2="302.70" stroke="#333" stroke-width="0.9" />
<polyline points="382.60,293.82 411.55,293.82 440.50,290.71 469.45,294.64 498.40,294.96" fill="none" stroke="#000000" stroke-width="0.8" stroke-dasharray="2.2,1.3" opacity="0.75"/>
<polyline points="382.60,283.52 411.55,271.75 440.50,259.32 469.45,275.67 498.40,273.71" fill="none" stroke="#ff0000" stroke-width="0.8" stroke-dasharray="2.2,1.3" opacity="0.75"/>
<polyline points="382.60,271.42 411.55,262.26 440.50,249.84 469.45,264.55 498.40,265.86" fill="none" stroke="#0000ff" stroke-width="0.8" stroke-dasharray="2.2,1.3" opacity="0.75"/>
<polyline points="382.60,267.17 411.55,252.13 440.50,243.30 469.45,258.67 498.40,259.97" fill="none" stroke="#800000" stroke-width="0.8" stroke-dasharray="2.2,1.3" opacity="0.75"/>
<polyline points="382.60,255.72 411.55,244.28 440.50,226.29 469.45,239.37 498.40,240.35" fill="none" stroke="#808000" stroke-width="0.8" stroke-dasharray="2.2,1.3" opacity="0.75"/>
<polyline points="382.60,247.22 411.55,238.07 440.50,220.41 469.45,232.51 498.40,234.14" fill="none" stroke="#ff0080" stroke-width="0.8" stroke-dasharray="2.2,1.3" opacity="0.75"/>
<rect x="380.02" y="291.23" width="5.17" height="5.17" fill="#000000"/>
<rect x="408.97" y="291.23" width="5.17" height="5.17" fill="#000000"/>
<rect x="437.92" y="288.13" width="5.17" height="5.17" fill="#000000"/>
<rect x="466.87" y="292.05" width="5.17" height="5.17" fill="#000000"/>
<rect x="495.82" y="292.38" width="5.17" height="5.17" fill="#000000"/>
<circle cx="382.60" cy="283.52" r="3.08" fill="#ff0000"/>
<circle cx="411.55" cy="271.75" r="3.08" fill="#ff0000"/>
<circle cx="440.50" cy="259.32" r="3.08" fill="#ff0000"/>
<circle cx="469.45" cy="275.67" r="3.08" fill="#ff0000"/>
<circle cx="498.40" cy="273.71" r="3.08" fill="#ff0000"/>
<polygon points="382.60,267.68 386.04,273.66 379.16,273.66" fill="#0000ff"/>
<polygon points="411.55,258.52 414.99,264.51 408.11,264.51" fill="#0000ff"/>
<polygon points="440.50,246.10 443.94,252.08 437.06,252.08" fill="#0000ff"/>
<polygon points="469.45,260.81 472.89,266.80 466.01,266.80" fill="#0000ff"/>
<polygon points="498.40,262.12 501.84,268.10 494.96,268.10" fill="#0000ff"/>
<polygon points="382.60,270.91 386.04,264.92 379.16,264.92" fill="#800000"/>
<polygon points="411.55,255.87 414.99,249.88 408.11,249.88" fill="#800000"/>
<polygon points="440.50,247.04 443.94,241.05 437.06,241.05" fill="#800000"/>
<polygon points="469.45,262.41 472.89,256.42 466.01,256.42" fill="#800000"/>
<polygon points="498.40,263.71 501.84,257.73 494.96,257.73" fill="#800000"/>
<polygon points="382.60,251.98 386.34,255.72 382.60,259.46 378.86,255.72" fill="#808000"/>
<polygon points="411.55,240.54 415.29,244.28 411.55,248.02 407.81,244.28" fill="#808000"/>
<polygon points="440.50,222.55 444.24,226.29 440.50,230.03 436.76,226.29" fill="#808000"/>
<polygon points="469.45,235.63 473.19,239.37 469.45,243.11 465.71,239.37" fill="#808000"/>
<polygon points="498.40,236.61 502.14,240.35 498.40,244.09 494.66,240.35" fill="#808000"/>
<polygon points="382.60,243.48 383.51,245.98 386.16,246.07 384.06,247.70 384.80,250.25 382.60,248.76 380.40,250.25 381.14,247.70 379.04,246.07 381.69,245.98" fill="#ff0080"/>
<polygon points="411.55,234.33 412.46,236.82 415.11,236.91 413.01,238.54 413.75,241.09 411.55,239.61 409.35,241.09 410.09,238.54 407.99,236.91 410.64,236.82" fill="#ff0080"/>
<polygon points="440.50,216.67 441.41,219.16 444.06,219.25 441.96,220.88 442.70,223.43 440.50,221.95 438.30,223.43 439.04,220.88 436.94,219.25 439.59,219.16" fill="#ff0080"/>
<polygon points="469.45,228.77 470.36,231.26 473.01,231.35 470.91,232.98 471.65,235.53 469.45,234.05 467.25,235.53 467.99,232.98 465.89,231.35 468.54,231.26" fill="#ff0080"/>
<polygon points="498.40,230.40 499.31,232.90 501.96,232.99 499.86,234.62 500.60,237.17 498.40,235.68 496.20,237.17 496.94,234.62 494.84,232.99 497.49,232.90" fill="#ff0080"/>
<text x="0" y="0" font-size="9" font-weight="bold" fill="#222" text-anchor="middle" transform="translate(347.4,259.0) rotate(-90)">nP<tspan font-size="5.2" dy="2">C,10s</tspan><tspan dy="-2"> (V)</tspan></text>
<rect x="376.80" y="312.60" width="127.90" height="90.50" fill="none" stroke="#505050" stroke-width="1.1" />
<line x1="376.80" y1="399.10" x2="379.60" y2="399.10" stroke="#333" stroke-width="0.9" />
<text x="371.60" y="402.30" font-size="9" text-anchor="end" font-weight="normal" fill="#222" >0.0</text>
<line x1="376.80" y1="379.85" x2="379.60" y2="379.85" stroke="#333" stroke-width="0.9" />
<text x="371.60" y="383.05" font-size="9" text-anchor="end" font-weight="normal" fill="#222" >0.5</text>
<line x1="376.80" y1="360.60" x2="379.60" y2="360.60" stroke="#333" stroke-width="0.9" />
<text x="371.60" y="363.80" font-size="9" text-anchor="end" font-weight="normal" fill="#222" >1.0</text>
<line x1="376.80" y1="341.35" x2="379.60" y2="341.35" stroke="#333" stroke-width="0.9" />
<text x="371.60" y="344.55" font-size="9" text-anchor="end" font-weight="normal" fill="#222" >1.5</text>
<line x1="376.80" y1="322.10" x2="379.60" y2="322.10" stroke="#333" stroke-width="0.9" />
<text x="371.60" y="325.30" font-size="9" text-anchor="end" font-weight="normal" fill="#222" >2.0</text>
<line x1="376.80" y1="389.48" x2="378.40" y2="389.48" stroke="#333" stroke-width="0.9" />
<line x1="376.80" y1="370.23" x2="378.40" y2="370.23" stroke="#333" stroke-width="0.9" />
<line x1="376.80" y1="350.98" x2="378.40" y2="350.98" stroke="#333" stroke-width="0.9" />
<line x1="376.80" y1="331.73" x2="378.40" y2="331.73" stroke="#333" stroke-width="0.9" />
<line x1="382.60" y1="403.10" x2="382.60" y2="400.50" stroke="#333" stroke-width="0.9" />
<line x1="397.08" y1="403.10" x2="397.08" y2="401.50" stroke="#333" stroke-width="0.9" />
<line x1="411.55" y1="403.10" x2="411.55" y2="400.50" stroke="#333" stroke-width="0.9" />
<line x1="426.03" y1="403.10" x2="426.03" y2="401.50" stroke="#333" stroke-width="0.9" />
<line x1="440.50" y1="403.10" x2="440.50" y2="400.50" stroke="#333" stroke-width="0.9" />
<line x1="454.98" y1="403.10" x2="454.98" y2="401.50" stroke="#333" stroke-width="0.9" />
<line x1="469.45" y1="403.10" x2="469.45" y2="400.50" stroke="#333" stroke-width="0.9" />
<line x1="483.93" y1="403.10" x2="483.93" y2="401.50" stroke="#333" stroke-width="0.9" />
<line x1="498.40" y1="403.10" x2="498.40" y2="400.50" stroke="#333" stroke-width="0.9" />
<polyline points="382.60,399.10 411.55,397.95 440.50,397.56 469.45,397.95 498.40,398.33" fill="none" stroke="#000000" stroke-width="0.8" stroke-dasharray="2.2,1.3" opacity="0.75"/>
<polyline points="382.60,389.09 411.55,375.62 440.50,364.84 469.45,382.16 498.40,384.47" fill="none" stroke="#ff0000" stroke-width="0.8" stroke-dasharray="2.2,1.3" opacity="0.75"/>
<polyline points="382.60,378.70 411.55,365.99 440.50,357.52 469.45,375.62 498.40,376.77" fill="none" stroke="#0000ff" stroke-width="0.8" stroke-dasharray="2.2,1.3" opacity="0.75"/>
<polyline points="382.60,374.85 411.55,354.06 440.50,352.13 469.45,370.61 498.40,372.15" fill="none" stroke="#800000" stroke-width="0.8" stroke-dasharray="2.2,1.3" opacity="0.75"/>
<polyline points="382.60,361.37 411.55,347.51 440.50,329.03 469.45,345.59 498.40,347.90" fill="none" stroke="#808000" stroke-width="0.8" stroke-dasharray="2.2,1.3" opacity="0.75"/>
<polyline points="382.60,360.22 411.55,345.59 440.50,318.64 469.45,338.66 498.40,339.81" fill="none" stroke="#ff0080" stroke-width="0.8" stroke-dasharray="2.2,1.3" opacity="0.75"/>
<rect x="380.02" y="396.52" width="5.17" height="5.17" fill="#000000"/>
<rect x="408.97" y="395.36" width="5.17" height="5.17" fill="#000000"/>
<rect x="437.92" y="394.98" width="5.17" height="5.17" fill="#000000"/>
<rect x="466.87" y="395.36" width="5.17" height="5.17" fill="#000000"/>
<rect x="495.82" y="395.75" width="5.17" height="5.17" fill="#000000"/>
<circle cx="382.60" cy="389.09" r="3.08" fill="#ff0000"/>
<circle cx="411.55" cy="375.62" r="3.08" fill="#ff0000"/>
<circle cx="440.50" cy="364.84" r="3.08" fill="#ff0000"/>
<circle cx="469.45" cy="382.16" r="3.08" fill="#ff0000"/>
<circle cx="498.40" cy="384.47" r="3.08" fill="#ff0000"/>
<polygon points="382.60,374.96 386.04,380.94 379.16,380.94" fill="#0000ff"/>
<polygon points="411.55,362.25 414.99,368.23 408.11,368.23" fill="#0000ff"/>
<polygon points="440.50,353.78 443.94,359.76 437.06,359.76" fill="#0000ff"/>
<polygon points="469.45,371.88 472.89,377.86 466.01,377.86" fill="#0000ff"/>
<polygon points="498.40,373.03 501.84,379.01 494.96,379.01" fill="#0000ff"/>
<polygon points="382.60,378.59 386.04,372.60 379.16,372.60" fill="#800000"/>
<polygon points="411.55,357.80 414.99,351.81 408.11,351.81" fill="#800000"/>
<polygon points="440.50,355.87 443.94,349.89 437.06,349.89" fill="#800000"/>
<polygon points="469.45,374.35 472.89,368.37 466.01,368.37" fill="#800000"/>
<polygon points="498.40,375.89 501.84,369.91 494.96,369.91" fill="#800000"/>
<polygon points="382.60,357.63 386.34,361.37 382.60,365.11 378.86,361.37" fill="#808000"/>
<polygon points="411.55,343.77 415.29,347.51 411.55,351.25 407.81,347.51" fill="#808000"/>
<polygon points="440.50,325.29 444.24,329.03 440.50,332.77 436.76,329.03" fill="#808000"/>
<polygon points="469.45,341.85 473.19,345.59 469.45,349.33 465.71,345.59" fill="#808000"/>
<polygon points="498.40,344.16 502.14,347.90 498.40,351.64 494.66,347.90" fill="#808000"/>
<polygon points="382.60,356.48 383.51,358.97 386.16,359.06 384.06,360.69 384.80,363.24 382.60,361.76 380.40,363.24 381.14,360.69 379.04,359.06 381.69,358.97" fill="#ff0080"/>
<polygon points="411.55,341.85 412.46,344.34 415.11,344.43 413.01,346.06 413.75,348.61 411.55,347.13 409.35,348.61 410.09,346.06 407.99,344.43 410.64,344.34" fill="#ff0080"/>
<polygon points="440.50,314.90 441.41,317.39 444.06,317.48 441.96,319.11 442.70,321.66 440.50,320.18 438.30,321.66 439.04,319.11 436.94,317.48 439.59,317.39" fill="#ff0080"/>
<polygon points="469.45,334.92 470.36,337.41 473.01,337.50 470.91,339.13 471.65,341.68 469.45,340.20 467.25,341.68 467.99,339.13 465.89,337.50 468.54,337.41" fill="#ff0080"/>
<polygon points="498.40,336.07 499.31,338.56 501.96,338.65 499.86,340.29 500.60,342.84 498.40,341.35 496.20,342.84 496.94,340.29 494.84,338.65 497.49,338.56" fill="#ff0080"/>
<text x="0" y="0" font-size="9" font-weight="bold" fill="#222" text-anchor="middle" transform="translate(347.4,357.0) rotate(-90)">P<tspan font-size="5.2" dy="2">D,10s</tspan><tspan dy="-2"> (V)</tspan></text>
<text x="382.60" y="416.00" font-size="9" text-anchor="middle" font-weight="normal" fill="#222" >0</text>
<text x="411.55" y="416.00" font-size="9" text-anchor="middle" font-weight="normal" fill="#222" >10</text>
<text x="440.50" y="416.00" font-size="9" text-anchor="middle" font-weight="normal" fill="#222" >20</text>
<text x="469.45" y="416.00" font-size="9" text-anchor="middle" font-weight="normal" fill="#222" >30</text>
<text x="498.40" y="416.00" font-size="9" text-anchor="middle" font-weight="normal" fill="#222" >40</text>
<text x="440.80" y="431.50" font-size="8.8" text-anchor="middle" font-weight="bold" fill="#222" >SHMP (mol%)</text>
<text x="339.80" y="10.90" font-size="15" text-anchor="start" font-weight="bold" fill="#111" >b</text>
<rect x="378.20" y="116.90" width="35.20" height="58.30" fill="#fff" stroke="#999" stroke-width="0.6" />
<text x="381" y="124.3" font-size="6" font-weight="bold" fill="#222">J<tspan font-size="4" dy="1">APP</tspan><tspan dy="-1"> (mA/g)</tspan></text>
<line x1="378.4" y1="131.90" x2="394.5" y2="131.90" stroke="#000000" stroke-width="0.7" stroke-dasharray="2,1.3" opacity="0.8"/>
<rect x="384.27" y="129.67" width="4.46" height="4.46" fill="#000000"/>
<text x="397.10" y="134.10" font-size="6.2" text-anchor="start" font-weight="normal" fill="#222" >0.02</text>
<line x1="378.4" y1="139.80" x2="394.5" y2="139.80" stroke="#ff0000" stroke-width="0.7" stroke-dasharray="2,1.3" opacity="0.8"/>
<circle cx="386.50" cy="139.80" r="2.66" fill="#ff0000"/>
<text x="397.10" y="142.00" font-size="6.2" text-anchor="start" font-weight="normal" fill="#222" >0.07</text>
<line x1="378.4" y1="147.70" x2="394.5" y2="147.70" stroke="#0000ff" stroke-width="0.7" stroke-dasharray="2,1.3" opacity="0.8"/>
<polygon points="386.50,144.47 389.47,149.64 383.53,149.64" fill="#0000ff"/>
<text x="397.10" y="149.90" font-size="6.2" text-anchor="start" font-weight="normal" fill="#222" >0.1</text>
<line x1="378.4" y1="155.60" x2="394.5" y2="155.60" stroke="#800000" stroke-width="0.7" stroke-dasharray="2,1.3" opacity="0.8"/>
<polygon points="386.50,158.83 389.47,153.66 383.53,153.66" fill="#800000"/>
<text x="397.10" y="157.80" font-size="6.2" text-anchor="start" font-weight="normal" fill="#222" >0.18</text>
<line x1="378.4" y1="163.50" x2="394.5" y2="163.50" stroke="#808000" stroke-width="0.7" stroke-dasharray="2,1.3" opacity="0.8"/>
<polygon points="386.50,160.27 389.73,163.50 386.50,166.73 383.27,163.50" fill="#808000"/>
<text x="397.10" y="165.70" font-size="6.2" text-anchor="start" font-weight="normal" fill="#222" >0.28</text>
<line x1="378.4" y1="171.40" x2="394.5" y2="171.40" stroke="#ff0080" stroke-width="0.7" stroke-dasharray="2,1.3" opacity="0.8"/>
<polygon points="386.50,168.17 387.28,170.32 389.57,170.40 387.76,171.81 388.40,174.01 386.50,172.73 384.60,174.01 385.24,171.81 383.43,170.40 385.72,170.32" fill="#ff0080"/>
<text x="397.10" y="173.60" font-size="6.2" text-anchor="start" font-weight="normal" fill="#222" >0.5</text>
<rect x="556.20" y="14.20" width="127.40" height="109.40" fill="none" stroke="#777" stroke-width="1.1" />
<line x1="556.20" y1="123.70" x2="558.70" y2="123.70" stroke="#333" stroke-width="0.8" />
<text x="551.20" y="126.90" font-size="9" text-anchor="end" font-weight="normal" fill="#222" >0.0</text>
<line x1="556.20" y1="110.02" x2="558.70" y2="110.02" stroke="#333" stroke-width="0.8" />
<text x="551.20" y="113.22" font-size="9" text-anchor="end" font-weight="normal" fill="#222" >0.3</text>
<line x1="556.20" y1="96.34" x2="558.70" y2="96.34" stroke="#333" stroke-width="0.8" />
<text x="551.20" y="99.54" font-size="9" text-anchor="end" font-weight="normal" fill="#222" >0.6</text>
<line x1="556.20" y1="82.66" x2="558.70" y2="82.66" stroke="#333" stroke-width="0.8" />
<text x="551.20" y="85.86" font-size="9" text-anchor="end" font-weight="normal" fill="#222" >0.9</text>
<line x1="556.20" y1="68.98" x2="558.70" y2="68.98" stroke="#333" stroke-width="0.8" />
<text x="551.20" y="72.18" font-size="9" text-anchor="end" font-weight="normal" fill="#222" >1.2</text>
<line x1="556.20" y1="55.30" x2="558.70" y2="55.30" stroke="#333" stroke-width="0.8" />
<text x="551.20" y="58.50" font-size="9" text-anchor="end" font-weight="normal" fill="#222" >1.5</text>
<line x1="556.20" y1="41.62" x2="558.70" y2="41.62" stroke="#333" stroke-width="0.8" />
<text x="551.20" y="44.82" font-size="9" text-anchor="end" font-weight="normal" fill="#222" >1.8</text>
<line x1="556.20" y1="27.94" x2="558.70" y2="27.94" stroke="#333" stroke-width="0.8" />
<text x="551.20" y="31.14" font-size="9" text-anchor="end" font-weight="normal" fill="#222" >2.1</text>
<line x1="556.20" y1="14.26" x2="558.70" y2="14.26" stroke="#333" stroke-width="0.8" />
<text x="551.20" y="17.46" font-size="9" text-anchor="end" font-weight="normal" fill="#222" >2.4</text>
<line x1="556.20" y1="116.86" x2="557.70" y2="116.86" stroke="#333" stroke-width="0.8" />
<line x1="556.20" y1="103.18" x2="557.70" y2="103.18" stroke="#333" stroke-width="0.8" />
<line x1="556.20" y1="89.50" x2="557.70" y2="89.50" stroke="#333" stroke-width="0.8" />
<line x1="556.20" y1="75.82" x2="557.70" y2="75.82" stroke="#333" stroke-width="0.8" />
<line x1="556.20" y1="62.14" x2="557.70" y2="62.14" stroke="#333" stroke-width="0.8" />
<line x1="556.20" y1="48.46" x2="557.70" y2="48.46" stroke="#333" stroke-width="0.8" />
<line x1="556.20" y1="34.78" x2="557.70" y2="34.78" stroke="#333" stroke-width="0.8" />
<line x1="556.20" y1="21.10" x2="557.70" y2="21.10" stroke="#333" stroke-width="0.8" />
<line x1="558.50" y1="123.60" x2="558.50" y2="121.10" stroke="#333" stroke-width="0.8" />
<line x1="570.25" y1="123.60" x2="570.25" y2="122.10" stroke="#333" stroke-width="0.8" />
<line x1="582.00" y1="123.60" x2="582.00" y2="121.10" stroke="#333" stroke-width="0.8" />
<line x1="593.75" y1="123.60" x2="593.75" y2="122.10" stroke="#333" stroke-width="0.8" />
<line x1="605.50" y1="123.60" x2="605.50" y2="121.10" stroke="#333" stroke-width="0.8" />
<line x1="617.25" y1="123.60" x2="617.25" y2="122.10" stroke="#333" stroke-width="0.8" />
<line x1="629.00" y1="123.60" x2="629.00" y2="121.10" stroke="#333" stroke-width="0.8" />
<line x1="640.75" y1="123.60" x2="640.75" y2="122.10" stroke="#333" stroke-width="0.8" />
<line x1="652.50" y1="123.60" x2="652.50" y2="121.10" stroke="#333" stroke-width="0.8" />
<line x1="664.25" y1="123.60" x2="664.25" y2="122.10" stroke="#333" stroke-width="0.8" />
<line x1="676.00" y1="123.60" x2="676.00" y2="121.10" stroke="#333" stroke-width="0.8" />
<text x="558.50" y="133.50" font-size="9" text-anchor="middle" font-weight="normal" fill="#222" >0</text>
<text x="582.00" y="133.50" font-size="9" text-anchor="middle" font-weight="normal" fill="#222" >200</text>
<text x="605.50" y="133.50" font-size="9" text-anchor="middle" font-weight="normal" fill="#222" >400</text>
<text x="629.00" y="133.50" font-size="9" text-anchor="middle" font-weight="normal" fill="#222" >600</text>
<text x="652.50" y="133.50" font-size="9" text-anchor="middle" font-weight="normal" fill="#222" >800</text>
<text x="677.00" y="133.50" font-size="9" text-anchor="middle" font-weight="normal" fill="#222" >1000</text>
<text x="620.00" y="144.80" font-size="9" text-anchor="middle" font-weight="bold" fill="#222" >Time (s)</text>
<text x="0" y="0" font-size="9.2" font-weight="bold" fill="#222" text-anchor="middle" transform="translate(528,67.4) rotate(-90)">Potential (V)</text>
<text x="520.90" y="11.00" font-size="15" text-anchor="start" font-weight="bold" fill="#111" >c</text>
<polyline points="559.20,123.40 559.20,35.80" fill="none" stroke="#0a8a1a" stroke-width="1.7" stroke-linejoin="round" stroke-linecap="round" />
<polyline points="559.20,123.40 559.20,22.30 559.60,22.30 559.90,40.00" fill="none" stroke="#ff1010" stroke-width="1.7" stroke-linejoin="round" stroke-linecap="round" />
<path d="M559.90,40.00 C559.97,41.17 560.12,45.02 560.30,47.00 C560.48,48.98 560.58,50.32 561.00,51.90 C561.42,53.48 562.18,55.20 562.80,56.50 C563.42,57.80 563.78,58.48 564.70,59.70 C565.62,60.92 566.93,62.50 568.30,63.80 C569.67,65.10 571.37,66.43 572.90,67.50 C574.43,68.57 575.98,69.42 577.50,70.20 C579.02,70.98 580.48,71.58 582.00,72.20 C583.52,72.82 585.07,73.38 586.60,73.90 C588.13,74.42 589.67,74.92 591.20,75.30 C592.73,75.68 594.33,75.90 595.80,76.20 C597.27,76.50 597.63,76.67 600.00,77.10 C602.37,77.53 606.50,78.32 610.00,78.80 C613.50,79.28 617.35,79.57 621.00,80.00 C624.65,80.43 628.25,81.03 631.90,81.40 C635.55,81.77 639.25,81.93 642.90,82.20 C646.55,82.47 650.15,82.77 653.80,83.00 C657.45,83.23 661.12,83.38 664.80,83.60 C668.48,83.82 674.05,84.18 675.90,84.30" fill="none" stroke="#ff1010" stroke-width="1.7" stroke-linejoin="round" stroke-linecap="round" />
<polyline points="559.40,35.30 560.00,35.30 560.00,60.00 560.20,75.00" fill="none" stroke="#0a8a1a" stroke-width="1.4" stroke-linejoin="round" stroke-linecap="round" />
<path d="M560.10,75.00 C560.25,76.15 560.65,79.80 561.00,81.90 C561.35,84.00 561.63,85.50 562.20,87.60 C562.77,89.70 563.45,92.45 564.40,94.50 C565.35,96.55 566.55,98.28 567.90,99.90 C569.25,101.52 570.78,102.97 572.50,104.20 C574.22,105.43 576.12,106.40 578.20,107.30 C580.28,108.20 582.72,108.92 585.00,109.60 C587.28,110.28 589.60,110.92 591.90,111.40 C594.20,111.88 596.95,112.22 598.80,112.50 C600.65,112.78 600.38,112.75 603.00,113.10 C605.62,113.45 610.00,114.12 614.50,114.60 C619.00,115.08 624.92,115.57 630.00,116.00 C635.08,116.43 640.00,116.82 645.00,117.20 C650.00,117.58 654.83,117.95 660.00,118.30 C665.17,118.65 673.33,119.13 676.00,119.30" fill="none" stroke="#0a8a1a" stroke-width="1.7" stroke-linejoin="round" stroke-linecap="round" />
<polyline points="559.10,123.40 559.10,94.50 559.70,94.50 559.90,98.00" fill="none" stroke="#000" stroke-width="1.7" stroke-linejoin="round" stroke-linecap="round" />
<path d="M559.90,98.00 C559.93,99.00 560.02,102.45 560.10,104.00 C560.18,105.55 560.25,106.22 560.40,107.30 C560.55,108.38 560.52,109.50 561.00,110.50 C561.48,111.50 562.35,112.50 563.30,113.30 C564.25,114.10 565.17,114.72 566.70,115.30 C568.23,115.88 570.02,116.32 572.50,116.80 C574.98,117.28 578.18,117.77 581.60,118.20 C585.02,118.63 589.43,119.07 593.00,119.40 C596.57,119.73 599.42,120.00 603.00,120.20 C606.58,120.40 608.33,120.43 614.50,120.60 C620.67,120.77 629.75,120.98 640.00,121.20 C650.25,121.42 670.00,121.78 676.00,121.90" fill="none" stroke="#000" stroke-width="1.7" stroke-linejoin="round" stroke-linecap="round" />
<line x1="558.30" y1="123.60" x2="558.30" y2="14.20" stroke="#000" stroke-width="0.8" />
<rect x="588.80" y="17.20" width="58.80" height="30.20" fill="#fff" stroke="#aaa" stroke-width="0.7" />
<text x="589.4" y="25.3" font-size="7.2" font-weight="bold" fill="#111">J<tspan font-size="4.4" dy="1.5">APP</tspan><tspan dy="-1.5"> (mA/g) =</tspan></text>
<text x="591.20" y="35.70" font-size="7.3" text-anchor="start" font-weight="bold" fill="#1010ff" >+0.18 (charg)</text>
<text x="591.20" y="44.40" font-size="7.2" text-anchor="start" font-weight="bold" fill="#1010ff" >0.0 (discharge)</text>
<text x="667.90" y="24.20" font-size="7.0" text-anchor="middle" font-weight="bold" fill="#111" >SHMP</text>
<text x="669.20" y="33.90" font-size="7.26" text-anchor="middle" font-weight="bold" fill="#111" >(mol%)</text>
<line x1="655.60" y1="41.30" x2="668.90" y2="41.30" stroke="#000" stroke-width="1.6" />
<text x="672.60" y="43.90" font-size="7.5" text-anchor="start" font-weight="normal" fill="#222" >0</text>
<line x1="655.60" y1="50.80" x2="668.90" y2="50.80" stroke="#ff1010" stroke-width="1.6" />
<text x="672.60" y="53.40" font-size="7.5" text-anchor="start" font-weight="normal" fill="#222" >20</text>
<line x1="655.60" y1="60.30" x2="668.90" y2="60.30" stroke="#0a8a1a" stroke-width="1.6" />
<text x="672.60" y="62.90" font-size="7.5" text-anchor="start" font-weight="normal" fill="#222" >40</text>
<rect x="556.00" y="152.40" width="127.20" height="110.00" fill="none" stroke="#777" stroke-width="1.1" />
<line x1="556.00" y1="260.20" x2="558.50" y2="260.20" stroke="#333" stroke-width="0.8" />
<text x="551.20" y="263.40" font-size="9" text-anchor="end" font-weight="normal" fill="#222" >0.0</text>
<line x1="556.00" y1="234.70" x2="558.50" y2="234.70" stroke="#333" stroke-width="0.8" />
<text x="551.20" y="237.90" font-size="9" text-anchor="end" font-weight="normal" fill="#222" >0.5</text>
<line x1="556.00" y1="209.20" x2="558.50" y2="209.20" stroke="#333" stroke-width="0.8" />
<text x="551.20" y="212.40" font-size="9" text-anchor="end" font-weight="normal" fill="#222" >1.0</text>
<line x1="556.00" y1="183.70" x2="558.50" y2="183.70" stroke="#333" stroke-width="0.8" />
<text x="551.20" y="186.90" font-size="9" text-anchor="end" font-weight="normal" fill="#222" >1.5</text>
<line x1="556.00" y1="158.20" x2="558.50" y2="158.20" stroke="#333" stroke-width="0.8" />
<text x="551.20" y="161.40" font-size="9" text-anchor="end" font-weight="normal" fill="#222" >2.0</text>
<line x1="556.00" y1="247.45" x2="557.50" y2="247.45" stroke="#333" stroke-width="0.8" />
<line x1="556.00" y1="221.95" x2="557.50" y2="221.95" stroke="#333" stroke-width="0.8" />
<line x1="556.00" y1="196.45" x2="557.50" y2="196.45" stroke="#333" stroke-width="0.8" />
<line x1="556.00" y1="170.95" x2="557.50" y2="170.95" stroke="#333" stroke-width="0.8" />
<line x1="558.60" y1="262.40" x2="558.60" y2="259.90" stroke="#333" stroke-width="0.8" />
<line x1="573.29" y1="262.40" x2="573.29" y2="260.90" stroke="#333" stroke-width="0.8" />
<line x1="587.98" y1="262.40" x2="587.98" y2="259.90" stroke="#333" stroke-width="0.8" />
<line x1="602.67" y1="262.40" x2="602.67" y2="260.90" stroke="#333" stroke-width="0.8" />
<line x1="617.36" y1="262.40" x2="617.36" y2="259.90" stroke="#333" stroke-width="0.8" />
<line x1="632.05" y1="262.40" x2="632.05" y2="260.90" stroke="#333" stroke-width="0.8" />
<line x1="646.74" y1="262.40" x2="646.74" y2="259.90" stroke="#333" stroke-width="0.8" />
<line x1="661.43" y1="262.40" x2="661.43" y2="260.90" stroke="#333" stroke-width="0.8" />
<line x1="676.12" y1="262.40" x2="676.12" y2="259.90" stroke="#333" stroke-width="0.8" />
<text x="558.60" y="272.50" font-size="9" text-anchor="middle" font-weight="normal" fill="#222" >0</text>
<text x="587.98" y="272.50" font-size="9" text-anchor="middle" font-weight="normal" fill="#222" >40</text>
<text x="617.36" y="272.50" font-size="9" text-anchor="middle" font-weight="normal" fill="#222" >80</text>
<text x="646.74" y="272.50" font-size="9" text-anchor="middle" font-weight="normal" fill="#222" >120</text>
<text x="676.12" y="272.50" font-size="9" text-anchor="middle" font-weight="normal" fill="#222" >160</text>
<text x="620.00" y="284.50" font-size="9" text-anchor="middle" font-weight="bold" fill="#222" >Time (s)</text>
<text x="0" y="0" font-size="8.7" font-weight="bold" fill="#222" text-anchor="middle" transform="translate(527.9,207.9) rotate(-90)">Potential (V)</text>
<text x="520.50" y="159.40" font-size="15" text-anchor="start" font-weight="bold" fill="#111" >d</text>
<line x1="558.60" y1="262.40" x2="558.60" y2="152.40" stroke="#bbb" stroke-width="0.8" />
<line x1="558.60" y1="260.20" x2="683.20" y2="260.20" stroke="#000" stroke-width="1.0" />
<polyline points="558.60,260.00 559.40,242.00 560.00,232.50 569.20,157.30" fill="none" stroke="#000" stroke-width="1.7" stroke-linejoin="round" stroke-linecap="round" />
<path d="M569.20,157.30 C569.30,159.08 569.65,165.25 569.80,168.00 C569.95,170.75 569.60,170.08 570.10,173.80 C570.60,177.52 571.98,185.52 572.80,190.30 C573.62,195.08 574.38,199.45 575.00,202.50 C575.62,205.55 575.58,204.43 576.50,208.60 C577.42,212.77 579.22,222.10 580.50,227.50 C581.78,232.90 582.97,235.62 584.20,241.00 C585.43,246.38 587.28,256.67 587.90,259.80" fill="none" stroke="#000" stroke-width="1.7" stroke-linejoin="round" stroke-linecap="round" />
<polyline points="558.60,260.00 559.40,242.00 560.00,232.50 569.20,157.30" fill="none" stroke="#ff1010" stroke-width="1.7" stroke-linejoin="round" stroke-linecap="round" />
<path d="M569.20,157.30 C569.33,158.58 569.70,162.87 570.00,165.00 C570.30,167.13 570.58,168.27 571.00,170.10 C571.42,171.93 571.83,173.85 572.50,176.00 C573.17,178.15 573.73,180.37 575.00,183.00 C576.27,185.63 578.57,189.35 580.10,191.80 C581.63,194.25 582.97,196.03 584.20,197.70 C585.43,199.37 585.98,200.30 587.50,201.80 C589.02,203.30 590.80,204.63 593.30,206.70 C595.80,208.77 598.88,211.60 602.50,214.20 C606.12,216.80 611.38,220.00 615.00,222.30 C618.62,224.60 621.15,226.13 624.20,228.00 C627.25,229.87 630.25,231.62 633.30,233.50 C636.35,235.38 639.43,237.30 642.50,239.30 C645.57,241.30 648.65,243.30 651.70,245.50 C654.75,247.70 657.82,250.12 660.80,252.50 C663.78,254.88 668.13,258.58 669.60,259.80" fill="none" stroke="#ff1010" stroke-width="1.7" stroke-linejoin="round" stroke-linecap="round" />
<polyline points="558.60,260.00 559.40,242.00 560.00,232.50 569.20,157.30" fill="none" stroke="#0a8a1a" stroke-width="1.7" stroke-linejoin="round" stroke-linecap="round" />
<path d="M569.20,157.30 C569.37,158.75 569.90,163.55 570.20,166.00 C570.50,168.45 570.53,169.58 571.00,172.00 C571.47,174.42 572.33,177.88 573.00,180.50 C573.67,183.12 573.83,185.12 575.00,187.70 C576.17,190.28 578.47,193.45 580.00,196.00 C581.53,198.55 581.98,199.63 584.20,203.00 C586.42,206.37 590.25,212.33 593.30,216.20 C596.35,220.07 599.45,223.00 602.50,226.20 C605.55,229.40 609.52,233.27 611.60,235.40 C613.68,237.53 613.47,237.37 615.00,239.00 C616.53,240.63 619.27,243.57 620.80,245.20 C622.33,246.83 622.98,247.38 624.20,248.80 C625.42,250.22 626.58,251.87 628.10,253.70 C629.62,255.53 632.43,258.78 633.30,259.80" fill="none" stroke="#0a8a1a" stroke-width="1.7" stroke-linejoin="round" stroke-linecap="round" />
<rect x="589.50" y="154.80" width="60.70" height="31.20" fill="#fff" stroke="#aaa" stroke-width="0.7" />
<text x="590.5" y="162.8" font-size="7.3" font-weight="bold" fill="#111">J<tspan font-size="4.3" dy="1.5">APP</tspan><tspan dy="-1.5"> (mA/g) =</tspan></text>
<text x="591.80" y="174.00" font-size="7.25" text-anchor="start" font-weight="bold" fill="#1010ff" >+0.18 (charg)</text>
<text x="591.60" y="182.80" font-size="7.35" text-anchor="start" font-weight="bold" fill="#1010ff" >-0.18 (discharge)</text>
<text x="667.00" y="162.40" font-size="6.8" text-anchor="middle" font-weight="bold" fill="#111" >SHMP</text>
<text x="667.00" y="171.30" font-size="6.95" text-anchor="middle" font-weight="bold" fill="#111" >(mol%)</text>
<line x1="655.60" y1="180.10" x2="668.30" y2="180.10" stroke="#000" stroke-width="1.6" />
<text x="671.00" y="182.70" font-size="7.3" text-anchor="start" font-weight="normal" fill="#222" >0</text>
<line x1="655.60" y1="187.55" x2="668.30" y2="187.55" stroke="#ff1010" stroke-width="1.6" />
<text x="671.00" y="190.15" font-size="7.3" text-anchor="start" font-weight="normal" fill="#222" >20</text>
<line x1="655.60" y1="195.00" x2="668.30" y2="195.00" stroke="#0a8a1a" stroke-width="1.6" />
<text x="671.00" y="197.60" font-size="7.3" text-anchor="start" font-weight="normal" fill="#222" >40</text>
<rect x="556.20" y="291.20" width="127.40" height="117.10" fill="none" stroke="#3a3a3a" stroke-width="1.1" />
<line x1="556.20" y1="407.80" x2="558.70" y2="407.80" stroke="#333" stroke-width="0.8" />
<text x="551.20" y="411.00" font-size="9" text-anchor="end" font-weight="normal" fill="#222" >0</text>
<line x1="556.20" y1="386.05" x2="558.70" y2="386.05" stroke="#333" stroke-width="0.8" />
<text x="551.20" y="389.25" font-size="9" text-anchor="end" font-weight="normal" fill="#222" >3</text>
<line x1="556.20" y1="364.30" x2="558.70" y2="364.30" stroke="#333" stroke-width="0.8" />
<text x="551.20" y="367.50" font-size="9" text-anchor="end" font-weight="normal" fill="#222" >6</text>
<line x1="556.20" y1="342.55" x2="558.70" y2="342.55" stroke="#333" stroke-width="0.8" />
<text x="551.20" y="345.75" font-size="9" text-anchor="end" font-weight="normal" fill="#222" >9</text>
<line x1="556.20" y1="320.80" x2="558.70" y2="320.80" stroke="#333" stroke-width="0.8" />
<text x="551.20" y="324.00" font-size="9" text-anchor="end" font-weight="normal" fill="#222" >12</text>
<line x1="556.20" y1="299.05" x2="558.70" y2="299.05" stroke="#333" stroke-width="0.8" />
<text x="551.20" y="302.25" font-size="9" text-anchor="end" font-weight="normal" fill="#222" >15</text>
<line x1="556.20" y1="396.93" x2="557.70" y2="396.93" stroke="#333" stroke-width="0.8" />
<line x1="556.20" y1="375.18" x2="557.70" y2="375.18" stroke="#333" stroke-width="0.8" />
<line x1="556.20" y1="353.43" x2="557.70" y2="353.43" stroke="#333" stroke-width="0.8" />
<line x1="556.20" y1="331.68" x2="557.70" y2="331.68" stroke="#333" stroke-width="0.8" />
<line x1="556.20" y1="309.93" x2="557.70" y2="309.93" stroke="#333" stroke-width="0.8" />
<line x1="561.70" y1="408.30" x2="561.70" y2="405.80" stroke="#333" stroke-width="0.8" />
<line x1="576.30" y1="408.30" x2="576.30" y2="406.80" stroke="#333" stroke-width="0.8" />
<line x1="590.90" y1="408.30" x2="590.90" y2="405.80" stroke="#333" stroke-width="0.8" />
<line x1="605.50" y1="408.30" x2="605.50" y2="406.80" stroke="#333" stroke-width="0.8" />
<line x1="620.10" y1="408.30" x2="620.10" y2="405.80" stroke="#333" stroke-width="0.8" />
<line x1="634.70" y1="408.30" x2="634.70" y2="406.80" stroke="#333" stroke-width="0.8" />
<line x1="649.30" y1="408.30" x2="649.30" y2="405.80" stroke="#333" stroke-width="0.8" />
<line x1="663.90" y1="408.30" x2="663.90" y2="406.80" stroke="#333" stroke-width="0.8" />
<line x1="678.50" y1="408.30" x2="678.50" y2="405.80" stroke="#333" stroke-width="0.8" />
<text x="561.70" y="420.60" font-size="9" text-anchor="middle" font-weight="normal" fill="#222" >0</text>
<text x="590.90" y="420.60" font-size="9" text-anchor="middle" font-weight="normal" fill="#222" >10</text>
<text x="620.10" y="420.60" font-size="9" text-anchor="middle" font-weight="normal" fill="#222" >20</text>
<text x="649.30" y="420.60" font-size="9" text-anchor="middle" font-weight="normal" fill="#222" >30</text>
<text x="678.50" y="420.60" font-size="9" text-anchor="middle" font-weight="normal" fill="#222" >40</text>
<text x="620.60" y="435.00" font-size="8.8" text-anchor="middle" font-weight="bold" fill="#222" >SHMP (mol%)</text>
<text x="0" y="0" font-size="8.8" font-weight="bold" fill="#222" text-anchor="middle" transform="translate(531.6,349.3) rotate(-90)">ED (mWh/g)</text>
<text x="520.60" y="296.70" font-size="15" text-anchor="start" font-weight="bold" fill="#111" >e</text>
<polyline points="561.70,402.22 590.90,399.32 620.10,390.69 649.30,400.41 678.50,402.22" fill="none" stroke="#000000" stroke-width="0.65" stroke-dasharray="2.2,1.3" opacity="0.75"/>
<line x1="561.70" y1="398.22" x2="561.70" y2="406.22" stroke="#8a8a8a" stroke-width="0.6" />
<line x1="560.70" y1="398.22" x2="562.70" y2="398.22" stroke="#8a8a8a" stroke-width="0.5" />
<line x1="560.70" y1="406.22" x2="562.70" y2="406.22" stroke="#8a8a8a" stroke-width="0.5" />
<line x1="590.90" y1="395.32" x2="590.90" y2="403.32" stroke="#8a8a8a" stroke-width="0.6" />
<line x1="589.90" y1="395.32" x2="591.90" y2="395.32" stroke="#8a8a8a" stroke-width="0.5" />
<line x1="589.90" y1="403.32" x2="591.90" y2="403.32" stroke="#8a8a8a" stroke-width="0.5" />
<line x1="620.10" y1="386.69" x2="620.10" y2="394.69" stroke="#8a8a8a" stroke-width="0.6" />
<line x1="619.10" y1="386.69" x2="621.10" y2="386.69" stroke="#8a8a8a" stroke-width="0.5" />
<line x1="619.10" y1="394.69" x2="621.10" y2="394.69" stroke="#8a8a8a" stroke-width="0.5" />
<line x1="649.30" y1="396.41" x2="649.30" y2="404.41" stroke="#8a8a8a" stroke-width="0.6" />
<line x1="648.30" y1="396.41" x2="650.30" y2="396.41" stroke="#8a8a8a" stroke-width="0.5" />
<line x1="648.30" y1="404.41" x2="650.30" y2="404.41" stroke="#8a8a8a" stroke-width="0.5" />
<line x1="678.50" y1="398.22" x2="678.50" y2="406.22" stroke="#8a8a8a" stroke-width="0.6" />
<line x1="677.50" y1="398.22" x2="679.50" y2="398.22" stroke="#8a8a8a" stroke-width="0.5" />
<line x1="677.50" y1="406.22" x2="679.50" y2="406.22" stroke="#8a8a8a" stroke-width="0.5" />
<polyline points="561.70,392.57 590.90,384.17 620.10,369.09 649.30,386.70 678.50,392.50" fill="none" stroke="#0000ff" stroke-width="0.65" stroke-dasharray="2.2,1.3" opacity="0.75"/>
<line x1="561.70" y1="388.57" x2="561.70" y2="396.57" stroke="#8a8a8a" stroke-width="0.6" />
<line x1="560.70" y1="388.57" x2="562.70" y2="388.57" stroke="#8a8a8a" stroke-width="0.5" />
<line x1="560.70" y1="396.57" x2="562.70" y2="396.57" stroke="#8a8a8a" stroke-width="0.5" />
<line x1="590.90" y1="380.17" x2="590.90" y2="388.17" stroke="#8a8a8a" stroke-width="0.6" />
<line x1="589.90" y1="380.17" x2="591.90" y2="380.17" stroke="#8a8a8a" stroke-width="0.5" />
<line x1="589.90" y1="388.17" x2="591.90" y2="388.17" stroke="#8a8a8a" stroke-width="0.5" />
<line x1="620.10" y1="365.09" x2="620.10" y2="373.09" stroke="#8a8a8a" stroke-width="0.6" />
<line x1="619.10" y1="365.09" x2="621.10" y2="365.09" stroke="#8a8a8a" stroke-width="0.5" />
<line x1="619.10" y1="373.09" x2="621.10" y2="373.09" stroke="#8a8a8a" stroke-width="0.5" />
<line x1="649.30" y1="382.70" x2="649.30" y2="390.70" stroke="#8a8a8a" stroke-width="0.6" />
<line x1="648.30" y1="382.70" x2="650.30" y2="382.70" stroke="#8a8a8a" stroke-width="0.5" />
<line x1="648.30" y1="390.70" x2="650.30" y2="390.70" stroke="#8a8a8a" stroke-width="0.5" />
<line x1="678.50" y1="388.50" x2="678.50" y2="396.50" stroke="#8a8a8a" stroke-width="0.6" />
<line x1="677.50" y1="388.50" x2="679.50" y2="388.50" stroke="#8a8a8a" stroke-width="0.5" />
<line x1="677.50" y1="396.50" x2="679.50" y2="396.50" stroke="#8a8a8a" stroke-width="0.5" />
<polyline points="561.70,387.06 590.90,376.34 620.10,359.01 649.30,377.71 678.50,387.06" fill="none" stroke="#ff00ff" stroke-width="0.65" stroke-dasharray="2.2,1.3" opacity="0.75"/>
<line x1="561.70" y1="383.06" x2="561.70" y2="391.06" stroke="#8a8a8a" stroke-width="0.6" />
<line x1="560.70" y1="383.06" x2="562.70" y2="383.06" stroke="#8a8a8a" stroke-width="0.5" />
<line x1="560.70" y1="391.06" x2="562.70" y2="391.06" stroke="#8a8a8a" stroke-width="0.5" />
<line x1="590.90" y1="372.34" x2="590.90" y2="380.34" stroke="#8a8a8a" stroke-width="0.6" />
<line x1="589.90" y1="372.34" x2="591.90" y2="372.34" stroke="#8a8a8a" stroke-width="0.5" />
<line x1="589.90" y1="380.34" x2="591.90" y2="380.34" stroke="#8a8a8a" stroke-width="0.5" />
<line x1="620.10" y1="355.01" x2="620.10" y2="363.01" stroke="#8a8a8a" stroke-width="0.6" />
<line x1="619.10" y1="355.01" x2="621.10" y2="355.01" stroke="#8a8a8a" stroke-width="0.5" />
<line x1="619.10" y1="363.01" x2="621.10" y2="363.01" stroke="#8a8a8a" stroke-width="0.5" />
<line x1="649.30" y1="373.71" x2="649.30" y2="381.71" stroke="#8a8a8a" stroke-width="0.6" />
<line x1="648.30" y1="373.71" x2="650.30" y2="373.71" stroke="#8a8a8a" stroke-width="0.5" />
<line x1="648.30" y1="381.71" x2="650.30" y2="381.71" stroke="#8a8a8a" stroke-width="0.5" />
<line x1="678.50" y1="383.06" x2="678.50" y2="391.06" stroke="#8a8a8a" stroke-width="0.6" />
<line x1="677.50" y1="383.06" x2="679.50" y2="383.06" stroke="#8a8a8a" stroke-width="0.5" />
<line x1="677.50" y1="391.06" x2="679.50" y2="391.06" stroke="#8a8a8a" stroke-width="0.5" />
<polyline points="561.70,382.43 590.90,369.09 620.10,341.83 649.30,370.90 678.50,382.43" fill="none" stroke="#800000" stroke-width="0.65" stroke-dasharray="2.2,1.3" opacity="0.75"/>
<line x1="561.70" y1="378.43" x2="561.70" y2="386.43" stroke="#8a8a8a" stroke-width="0.6" />
<line x1="560.70" y1="378.43" x2="562.70" y2="378.43" stroke="#8a8a8a" stroke-width="0.5" />
<line x1="560.70" y1="386.43" x2="562.70" y2="386.43" stroke="#8a8a8a" stroke-width="0.5" />
<line x1="590.90" y1="365.09" x2="590.90" y2="373.09" stroke="#8a8a8a" stroke-width="0.6" />
<line x1="589.90" y1="365.09" x2="591.90" y2="365.09" stroke="#8a8a8a" stroke-width="0.5" />
<line x1="589.90" y1="373.09" x2="591.90" y2="373.09" stroke="#8a8a8a" stroke-width="0.5" />
<line x1="620.10" y1="337.83" x2="620.10" y2="345.83" stroke="#8a8a8a" stroke-width="0.6" />
<line x1="619.10" y1="337.83" x2="621.10" y2="337.83" stroke="#8a8a8a" stroke-width="0.5" />
<line x1="619.10" y1="345.83" x2="621.10" y2="345.83" stroke="#8a8a8a" stroke-width="0.5" />
<line x1="649.30" y1="366.90" x2="649.30" y2="374.90" stroke="#8a8a8a" stroke-width="0.6" />
<line x1="648.30" y1="366.90" x2="650.30" y2="366.90" stroke="#8a8a8a" stroke-width="0.5" />
<line x1="648.30" y1="374.90" x2="650.30" y2="374.90" stroke="#8a8a8a" stroke-width="0.5" />
<line x1="678.50" y1="378.43" x2="678.50" y2="386.43" stroke="#8a8a8a" stroke-width="0.6" />
<line x1="677.50" y1="378.43" x2="679.50" y2="378.43" stroke="#8a8a8a" stroke-width="0.5" />
<line x1="677.50" y1="386.43" x2="679.50" y2="386.43" stroke="#8a8a8a" stroke-width="0.5" />
<polyline points="561.70,366.19 590.90,346.47 620.10,317.18 649.30,356.18 678.50,366.19" fill="none" stroke="#808000" stroke-width="0.65" stroke-dasharray="2.2,1.3" opacity="0.75"/>
<line x1="561.70" y1="362.19" x2="561.70" y2="370.19" stroke="#8a8a8a" stroke-width="0.6" />
<line x1="560.70" y1="362.19" x2="562.70" y2="362.19" stroke="#8a8a8a" stroke-width="0.5" />
<line x1="560.70" y1="370.19" x2="562.70" y2="370.19" stroke="#8a8a8a" stroke-width="0.5" />
<line x1="590.90" y1="342.47" x2="590.90" y2="350.47" stroke="#8a8a8a" stroke-width="0.6" />
<line x1="589.90" y1="342.47" x2="591.90" y2="342.47" stroke="#8a8a8a" stroke-width="0.5" />
<line x1="589.90" y1="350.47" x2="591.90" y2="350.47" stroke="#8a8a8a" stroke-width="0.5" />
<line x1="620.10" y1="313.18" x2="620.10" y2="321.18" stroke="#8a8a8a" stroke-width="0.6" />
<line x1="619.10" y1="313.18" x2="621.10" y2="313.18" stroke="#8a8a8a" stroke-width="0.5" />
<line x1="619.10" y1="321.18" x2="621.10" y2="321.18" stroke="#8a8a8a" stroke-width="0.5" />
<line x1="649.30" y1="352.18" x2="649.30" y2="360.18" stroke="#8a8a8a" stroke-width="0.6" />
<line x1="648.30" y1="352.18" x2="650.30" y2="352.18" stroke="#8a8a8a" stroke-width="0.5" />
<line x1="648.30" y1="360.18" x2="650.30" y2="360.18" stroke="#8a8a8a" stroke-width="0.5" />
<line x1="678.50" y1="362.19" x2="678.50" y2="370.19" stroke="#8a8a8a" stroke-width="0.6" />
<line x1="677.50" y1="362.19" x2="679.50" y2="362.19" stroke="#8a8a8a" stroke-width="0.5" />
<line x1="677.50" y1="370.19" x2="679.50" y2="370.19" stroke="#8a8a8a" stroke-width="0.5" />
<polyline points="561.70,357.99 590.90,329.21 620.10,298.69 649.30,345.81 678.50,356.18" fill="none" stroke="#ff0080" stroke-width="0.65" stroke-dasharray="2.2,1.3" opacity="0.75"/>
<line x1="561.70" y1="353.99" x2="561.70" y2="361.99" stroke="#8a8a8a" stroke-width="0.6" />
<line x1="560.70" y1="353.99" x2="562.70" y2="353.99" stroke="#8a8a8a" stroke-width="0.5" />
<line x1="560.70" y1="361.99" x2="562.70" y2="361.99" stroke="#8a8a8a" stroke-width="0.5" />
<line x1="590.90" y1="325.21" x2="590.90" y2="333.21" stroke="#8a8a8a" stroke-width="0.6" />
<line x1="589.90" y1="325.21" x2="591.90" y2="325.21" stroke="#8a8a8a" stroke-width="0.5" />
<line x1="589.90" y1="333.21" x2="591.90" y2="333.21" stroke="#8a8a8a" stroke-width="0.5" />
<line x1="620.10" y1="294.69" x2="620.10" y2="302.69" stroke="#8a8a8a" stroke-width="0.6" />
<line x1="619.10" y1="294.69" x2="621.10" y2="294.69" stroke="#8a8a8a" stroke-width="0.5" />
<line x1="619.10" y1="302.69" x2="621.10" y2="302.69" stroke="#8a8a8a" stroke-width="0.5" />
<line x1="649.30" y1="341.81" x2="649.30" y2="349.81" stroke="#8a8a8a" stroke-width="0.6" />
<line x1="648.30" y1="341.81" x2="650.30" y2="341.81" stroke="#8a8a8a" stroke-width="0.5" />
<line x1="648.30" y1="349.81" x2="650.30" y2="349.81" stroke="#8a8a8a" stroke-width="0.5" />
<line x1="678.50" y1="352.18" x2="678.50" y2="360.18" stroke="#8a8a8a" stroke-width="0.6" />
<line x1="677.50" y1="352.18" x2="679.50" y2="352.18" stroke="#8a8a8a" stroke-width="0.5" />
<line x1="677.50" y1="360.18" x2="679.50" y2="360.18" stroke="#8a8a8a" stroke-width="0.5" />
<rect x="559.54" y="400.06" width="4.32" height="4.32" fill="#000000"/>
<rect x="588.74" y="397.16" width="4.32" height="4.32" fill="#000000"/>
<rect x="617.94" y="388.53" width="4.32" height="4.32" fill="#000000"/>
<rect x="647.14" y="398.24" width="4.32" height="4.32" fill="#000000"/>
<rect x="676.34" y="400.06" width="4.32" height="4.32" fill="#000000"/>
<polygon points="561.70,389.45 564.58,394.45 558.82,394.45" fill="#0000ff"/>
<polygon points="590.90,381.04 593.78,386.04 588.02,386.04" fill="#0000ff"/>
<polygon points="620.10,365.96 622.98,370.96 617.22,370.96" fill="#0000ff"/>
<polygon points="649.30,383.57 652.18,388.58 646.42,388.58" fill="#0000ff"/>
<polygon points="678.50,389.37 681.38,394.38 675.62,394.38" fill="#0000ff"/>
<polygon points="561.70,383.94 564.83,387.06 561.70,390.19 558.57,387.06" fill="#ff00ff"/>
<polygon points="590.90,373.21 594.03,376.34 590.90,379.46 587.77,376.34" fill="#ff00ff"/>
<polygon points="620.10,355.88 623.23,359.01 620.10,362.14 616.97,359.01" fill="#ff00ff"/>
<polygon points="649.30,374.58 652.43,377.71 649.30,380.84 646.17,377.71" fill="#ff00ff"/>
<polygon points="678.50,383.94 681.63,387.06 678.50,390.19 675.37,387.06" fill="#ff00ff"/>
<polygon points="561.70,385.55 564.58,380.55 558.82,380.55" fill="#800000"/>
<polygon points="590.90,372.21 593.78,367.21 588.02,367.21" fill="#800000"/>
<polygon points="620.10,344.95 622.98,339.95 617.22,339.95" fill="#800000"/>
<polygon points="649.30,374.03 652.18,369.02 646.42,369.02" fill="#800000"/>
<polygon points="678.50,385.55 681.38,380.55 675.62,380.55" fill="#800000"/>
<circle cx="561.70" cy="366.19" r="2.58" fill="#808000"/>
<circle cx="590.90" cy="346.47" r="2.58" fill="#808000"/>
<circle cx="620.10" cy="317.18" r="2.58" fill="#808000"/>
<circle cx="649.30" cy="356.18" r="2.58" fill="#808000"/>
<circle cx="678.50" cy="366.19" r="2.58" fill="#808000"/>
<circle cx="561.70" cy="357.99" r="2.58" fill="#ff0080"/>
<circle cx="590.90" cy="329.21" r="2.58" fill="#ff0080"/>
<circle cx="620.10" cy="298.69" r="2.58" fill="#ff0080"/>
<circle cx="649.30" cy="345.81" r="2.58" fill="#ff0080"/>
<circle cx="678.50" cy="356.18" r="2.58" fill="#ff0080"/>
<rect x="653.40" y="291.60" width="30.40" height="51.30" fill="#fff" stroke="#aaa" stroke-width="0.6" />
<text x="653.8" y="296.6" font-size="5.6" font-weight="bold" fill="#222">J<tspan font-size="3.6" dy="1">APP</tspan><tspan dy="-1"> (mA/g)</tspan></text>
<line x1="653.7" y1="304.20" x2="667.4" y2="304.20" stroke="#000000" stroke-width="0.7" stroke-dasharray="2,1.3" opacity="0.8"/>
<rect x="658.25" y="301.85" width="4.70" height="4.70" fill="#000000"/>
<text x="668.80" y="306.20" font-size="5.8" text-anchor="start" font-weight="normal" fill="#222" >0.02</text>
<line x1="653.7" y1="311.34" x2="667.4" y2="311.34" stroke="#0000ff" stroke-width="0.7" stroke-dasharray="2,1.3" opacity="0.8"/>
<polygon points="660.60,307.94 663.73,313.38 657.47,313.38" fill="#0000ff"/>
<text x="668.80" y="313.34" font-size="5.8" text-anchor="start" font-weight="normal" fill="#222" >0.07</text>
<line x1="653.7" y1="318.48" x2="667.4" y2="318.48" stroke="#ff00ff" stroke-width="0.7" stroke-dasharray="2,1.3" opacity="0.8"/>
<polygon points="660.60,315.08 664.00,318.48 660.60,321.88 657.20,318.48" fill="#ff00ff"/>
<text x="668.80" y="320.48" font-size="5.8" text-anchor="start" font-weight="normal" fill="#222" >0.1</text>
<line x1="653.7" y1="325.62" x2="667.4" y2="325.62" stroke="#800000" stroke-width="0.7" stroke-dasharray="2,1.3" opacity="0.8"/>
<polygon points="660.60,329.02 663.73,323.58 657.47,323.58" fill="#800000"/>
<text x="668.80" y="327.62" font-size="5.8" text-anchor="start" font-weight="normal" fill="#222" >0.18</text>
<line x1="653.7" y1="332.76" x2="667.4" y2="332.76" stroke="#808000" stroke-width="0.7" stroke-dasharray="2,1.3" opacity="0.8"/>
<circle cx="660.60" cy="332.76" r="2.80" fill="#808000"/>
<text x="668.80" y="334.76" font-size="5.8" text-anchor="start" font-weight="normal" fill="#222" >0.28</text>
<line x1="653.7" y1="339.90" x2="667.4" y2="339.90" stroke="#ff0080" stroke-width="0.7" stroke-dasharray="2,1.3" opacity="0.8"/>
<circle cx="660.60" cy="339.90" r="2.80" fill="#ff0080"/>
<text x="668.80" y="341.90" font-size="5.8" text-anchor="start" font-weight="normal" fill="#222" >0.5</text>
</svg></body></html>
